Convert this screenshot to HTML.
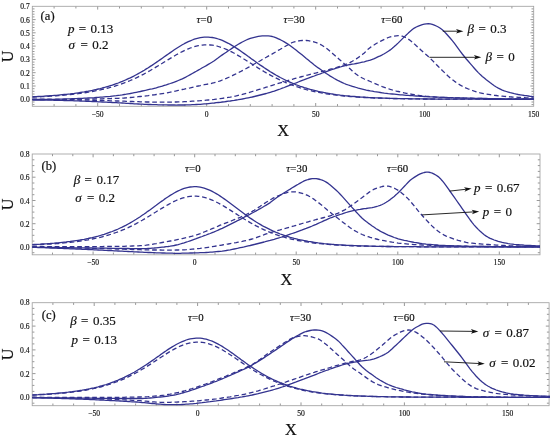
<!DOCTYPE html>
<html lang="en"><head><meta charset="utf-8"><title>Figure</title>
<style>html,body{margin:0;padding:0;background:#fff}body{width:550px;height:438px;overflow:hidden;font-family:"Liberation Serif",serif}svg{display:block}</style>
</head><body>
<svg width="550" height="438" viewBox="0 0 550 438">
<rect width="550" height="438" fill="#fff"/>
<g id="plot-a">
<clipPath id="clip-a"><rect x="32.3" y="5.3" width="502.4" height="102"/></clipPath>
<path d="M54.1,106.3v-2.2M54.1,6.3v2.2M75.9,106.3v-2.2M75.9,6.3v2.2M97.7,106.3v-3.3M97.7,6.3v3.3M119.5,106.3v-2.2M119.5,6.3v2.2M141.3,106.3v-2.2M141.3,6.3v2.2M163.1,106.3v-2.2M163.1,6.3v2.2M184.9,106.3v-2.2M184.9,6.3v2.2M206.7,106.3v-3.3M206.7,6.3v3.3M228.5,106.3v-2.2M228.5,6.3v2.2M250.3,106.3v-2.2M250.3,6.3v2.2M272.1,106.3v-2.2M272.1,6.3v2.2M293.9,106.3v-2.2M293.9,6.3v2.2M315.7,106.3v-3.3M315.7,6.3v3.3M337.5,106.3v-2.2M337.5,6.3v2.2M359.3,106.3v-2.2M359.3,6.3v2.2M381.1,106.3v-2.2M381.1,6.3v2.2M402.9,106.3v-2.2M402.9,6.3v2.2M424.7,106.3v-3.3M424.7,6.3v3.3M446.5,106.3v-2.2M446.5,6.3v2.2M468.3,106.3v-2.2M468.3,6.3v2.2M490.1,106.3v-2.2M490.1,6.3v2.2M511.9,106.3v-2.2M511.9,6.3v2.2M32.3,104.6h2.2M533.7,104.6h-2.2M32.3,102h2.2M533.7,102h-2.2M32.3,99.3h3.3M533.7,99.3h-3.3M32.3,96.6h2.2M533.7,96.6h-2.2M32.3,94h2.2M533.7,94h-2.2M32.3,91.3h2.2M533.7,91.3h-2.2M32.3,88.7h2.2M533.7,88.7h-2.2M32.3,86h3.3M533.7,86h-3.3M32.3,83.4h2.2M533.7,83.4h-2.2M32.3,80.7h2.2M533.7,80.7h-2.2M32.3,78h2.2M533.7,78h-2.2M32.3,75.4h2.2M533.7,75.4h-2.2M32.3,72.7h3.3M533.7,72.7h-3.3M32.3,70.1h2.2M533.7,70.1h-2.2M32.3,67.4h2.2M533.7,67.4h-2.2M32.3,64.7h2.2M533.7,64.7h-2.2M32.3,62.1h2.2M533.7,62.1h-2.2M32.3,59.4h3.3M533.7,59.4h-3.3M32.3,56.8h2.2M533.7,56.8h-2.2M32.3,54.1h2.2M533.7,54.1h-2.2M32.3,51.5h2.2M533.7,51.5h-2.2M32.3,48.8h2.2M533.7,48.8h-2.2M32.3,46.1h3.3M533.7,46.1h-3.3M32.3,43.5h2.2M533.7,43.5h-2.2M32.3,40.8h2.2M533.7,40.8h-2.2M32.3,38.2h2.2M533.7,38.2h-2.2M32.3,35.5h2.2M533.7,35.5h-2.2M32.3,32.8h3.3M533.7,32.8h-3.3M32.3,30.2h2.2M533.7,30.2h-2.2M32.3,27.5h2.2M533.7,27.5h-2.2M32.3,24.9h2.2M533.7,24.9h-2.2M32.3,22.2h2.2M533.7,22.2h-2.2M32.3,19.6h3.3M533.7,19.6h-3.3M32.3,16.9h2.2M533.7,16.9h-2.2M32.3,14.2h2.2M533.7,14.2h-2.2M32.3,11.6h2.2M533.7,11.6h-2.2M32.3,8.9h2.2M533.7,8.9h-2.2" stroke="#8c8c8c" stroke-width="0.9" fill="none"/>
<rect x="32.3" y="6.3" width="501.4" height="100" fill="none" stroke="#a2a2a2" stroke-width="0.85"/>
<g clip-path="url(#clip-a)" fill="none" stroke="#33338f" stroke-width="1.3" stroke-linejoin="round">
<path d="M32.3,96.8 34.3,96.7 36.3,96.6 38.3,96.5 40.3,96.4 42.3,96.3 44.3,96.2 46.3,96 48.3,95.9 50.3,95.7 52.3,95.6 54.3,95.4 56.3,95.3 58.3,95.1 60.3,94.9 62.3,94.7 64.3,94.5 66.3,94.3 68.3,94.1 70.3,93.9 72.3,93.6 74.3,93.4 76.3,93.1 78.3,92.8 80.3,92.5 82.3,92.2 84.3,91.9 86.3,91.5 88.3,91.2 90.3,90.8 92.3,90.4 94.3,89.9 96.3,89.5 98.3,89 100.3,88.6 102.3,88 104.3,87.5 106.3,86.9 108.3,86.3 110.3,85.7 112.3,85.1 114.3,84.4 116.3,83.7 118.3,83 120.3,82.2 122.3,81.4 124.3,80.5 126.3,79.7 128.3,78.7 130.3,77.8 132.3,76.8 134.3,75.8 136.3,74.7 138.3,73.6 140.3,72.5 142.3,71.4 144.3,70.2 146.3,68.9 148.3,67.7 150.3,66.4 152.3,65.1 154.3,63.7 156.3,62.4 158.3,61 160.3,59.6 162.3,58.2 164.3,56.8 166.3,55.4 168.3,54 170.3,52.6 172.3,51.2 174.3,49.8 176.3,48.5 178.3,47.2 180.3,46 182.3,44.8 184.3,43.7 186.3,42.7 188.3,41.7 190.3,40.8 192.3,40 194.3,39.2 196.3,38.6 198.3,38.1 200.3,37.7 202.3,37.4 204.3,37.2 206.3,37.1 208.3,37.1 210.3,37.3 212.3,37.5 214.3,37.9 216.3,38.4 218.3,39 220.3,39.7 222.3,40.4 224.3,41.3 226.3,42.3 228.3,43.3 230.3,44.4 232.3,45.6 234.3,46.8 236.3,48.1 238.3,49.4 240.3,50.8 242.3,52.2 244.3,53.6 246.3,55 248.3,56.5 250.3,57.9 252.3,59.4 254.3,60.8 256.3,62.2 258.3,63.7 260.3,65.1 262.3,66.4 264.3,67.8 266.3,69.1 268.3,70.4 270.3,71.7 272.3,72.9 274.3,74.1 276.3,75.3 278.3,76.4 280.3,77.5 282.3,78.5 284.3,79.5 286.3,80.5 288.3,81.4 290.3,82.3 292.3,83.2 294.3,84 296.3,84.8 298.3,85.5 300.3,86.3 302.3,86.9 304.3,87.6 306.3,88.2 308.3,88.8 310.3,89.4 312.3,89.9 314.3,90.4 316.3,90.9 318.3,91.4 320.3,91.8 322.3,92.2 324.3,92.6 326.3,93 328.3,93.3 330.3,93.7 332.3,94 334.3,94.3 336.3,94.6 338.3,94.8 340.3,95.1 342.3,95.3 344.3,95.6 346.3,95.8 348.3,96 350.3,96.2 352.3,96.3 354.3,96.5 356.3,96.7 358.3,96.8 360.3,97 362.3,97.1 364.3,97.2 366.3,97.3 368.3,97.5 370.3,97.6 372.3,97.7 374.3,97.8 376.3,97.9 378.3,97.9 380.3,98 382.3,98.1 384.3,98.2 386.3,98.2 388.3,98.3 390.3,98.3 392.3,98.4 394.3,98.5 396.3,98.5 398.3,98.6 400.3,98.6 402.3,98.6 404.3,98.7 406.3,98.7 408.3,98.7 410.3,98.8 412.3,98.8 414.3,98.8 416.3,98.9 418.3,98.9 420.3,98.9 422.3,98.9 424.3,99 426.3,99 428.3,99 430.3,99 432.3,99 434.3,99 436.3,99.1 438.3,99.1 440.3,99.1 442.3,99.1 444.3,99.1 446.3,99.1 448.3,99.1 450.3,99.1 452.3,99.2 454.3,99.2 456.3,99.2 458.3,99.2 460.3,99.2 462.3,99.2 464.3,99.2 466.3,99.2 468.3,99.2 470.3,99.2 472.3,99.2 474.3,99.2 476.3,99.2 478.3,99.2 480.3,99.2 482.3,99.2 484.3,99.2 486.3,99.2 488.3,99.3 490.3,99.3 492.3,99.3 494.3,99.3 496.3,99.3 498.3,99.3 500.3,99.3 502.3,99.3 504.3,99.3 506.3,99.3 508.3,99.3 510.3,99.3 512.3,99.3 514.3,99.3 516.3,99.3 518.3,99.3 520.3,99.3 522.3,99.3 524.3,99.3 526.3,99.3 528.3,99.3 530.3,99.3 532.3,99.3 533.7,99.3"/>
<path d="M32.3,97.1 34.3,97 36.3,96.9 38.3,96.9 40.3,96.8 42.3,96.7 44.3,96.5 46.3,96.4 48.3,96.3 50.3,96.2 52.3,96.1 54.3,95.9 56.3,95.8 58.3,95.6 60.3,95.5 62.3,95.3 64.3,95.1 66.3,94.9 68.3,94.7 70.3,94.5 72.3,94.3 74.3,94.1 76.3,93.9 78.3,93.6 80.3,93.4 82.3,93.1 84.3,92.8 86.3,92.5 88.3,92.2 90.3,91.8 92.3,91.5 94.3,91.1 96.3,90.7 98.3,90.3 100.3,89.9 102.3,89.4 104.3,89 106.3,88.5 108.3,88 110.3,87.4 112.3,86.8 114.3,86.3 116.3,85.6 118.3,85 120.3,84.3 122.3,83.6 124.3,82.9 126.3,82.1 128.3,81.3 130.3,80.5 132.3,79.6 134.3,78.7 136.3,77.8 138.3,76.8 140.3,75.8 142.3,74.8 144.3,73.8 146.3,72.7 148.3,71.6 150.3,70.5 152.3,69.3 154.3,68.1 156.3,66.9 158.3,65.7 160.3,64.5 162.3,63.3 164.3,62 166.3,60.8 168.3,59.6 170.3,58.4 172.3,57.2 174.3,56 176.3,54.8 178.3,53.7 180.3,52.6 182.3,51.6 184.3,50.6 186.3,49.7 188.3,48.8 190.3,48 192.3,47.3 194.3,46.7 196.3,46.1 198.3,45.7 200.3,45.3 202.3,45.1 204.3,44.9 206.3,44.8 208.3,44.8 210.3,45 212.3,45.2 214.3,45.5 216.3,45.9 218.3,46.5 220.3,47.1 222.3,47.7 224.3,48.5 226.3,49.3 228.3,50.2 230.3,51.2 232.3,52.2 234.3,53.3 236.3,54.4 238.3,55.6 240.3,56.8 242.3,58 244.3,59.3 246.3,60.5 248.3,61.8 250.3,63 252.3,64.3 254.3,65.6 256.3,66.8 258.3,68.1 260.3,69.3 262.3,70.5 264.3,71.7 266.3,72.9 268.3,74 270.3,75.1 272.3,76.2 274.3,77.2 276.3,78.2 278.3,79.2 280.3,80.2 282.3,81.1 284.3,82 286.3,82.8 288.3,83.6 290.3,84.4 292.3,85.2 294.3,85.9 296.3,86.6 298.3,87.2 300.3,87.9 302.3,88.5 304.3,89 306.3,89.6 308.3,90.1 310.3,90.6 312.3,91.1 314.3,91.5 316.3,92 318.3,92.4 320.3,92.7 322.3,93.1 324.3,93.4 326.3,93.8 328.3,94.1 330.3,94.4 332.3,94.6 334.3,94.9 336.3,95.2 338.3,95.4 340.3,95.6 342.3,95.8 344.3,96 346.3,96.2 348.3,96.4 350.3,96.6 352.3,96.7 354.3,96.9 356.3,97 358.3,97.1 360.3,97.3 362.3,97.4 364.3,97.5 366.3,97.6 368.3,97.7 370.3,97.8 372.3,97.9 374.3,98 376.3,98 378.3,98.1 380.3,98.2 382.3,98.2 384.3,98.3 386.3,98.4 388.3,98.4 390.3,98.5 392.3,98.5 394.3,98.6 396.3,98.6 398.3,98.6 400.3,98.7 402.3,98.7 404.3,98.8 406.3,98.8 408.3,98.8 410.3,98.8 412.3,98.9 414.3,98.9 416.3,98.9 418.3,98.9 420.3,99 422.3,99 424.3,99 426.3,99 428.3,99 430.3,99.1 432.3,99.1 434.3,99.1 436.3,99.1 438.3,99.1 440.3,99.1 442.3,99.1 444.3,99.1 446.3,99.1 448.3,99.2 450.3,99.2 452.3,99.2 454.3,99.2 456.3,99.2 458.3,99.2 460.3,99.2 462.3,99.2 464.3,99.2 466.3,99.2 468.3,99.2 470.3,99.2 472.3,99.2 474.3,99.2 476.3,99.2 478.3,99.2 480.3,99.2 482.3,99.2 484.3,99.3 486.3,99.3 488.3,99.3 490.3,99.3 492.3,99.3 494.3,99.3 496.3,99.3 498.3,99.3 500.3,99.3 502.3,99.3 504.3,99.3 506.3,99.3 508.3,99.3 510.3,99.3 512.3,99.3 514.3,99.3 516.3,99.3 518.3,99.3 520.3,99.3 522.3,99.3 524.3,99.3 526.3,99.3 528.3,99.3 530.3,99.3 532.3,99.3 533.7,99.3" stroke-dasharray="4.7 2.8"/>
<path d="M32.3,99.5 34.3,99.5 36.3,99.5 38.3,99.5 40.3,99.5 42.3,99.5 44.3,99.5 46.3,99.4 48.3,99.4 50.3,99.4 52.3,99.3 54.3,99.3 56.3,99.2 58.3,99.2 60.3,99.1 62.3,99.1 64.3,99 66.3,98.9 68.3,98.9 70.3,98.8 72.3,98.7 74.3,98.6 76.3,98.6 78.3,98.5 80.3,98.4 82.3,98.3 84.3,98.2 86.3,98.1 88.3,98 90.3,97.9 92.3,97.8 94.3,97.7 96.3,97.5 98.3,97.4 100.3,97.2 102.3,97.1 104.3,96.9 106.3,96.7 108.3,96.6 110.3,96.4 112.3,96.1 114.3,95.9 116.3,95.7 118.3,95.4 120.3,95.2 122.3,94.9 124.3,94.5 126.3,94.2 128.3,93.8 130.3,93.5 132.3,93.1 134.3,92.7 136.3,92.3 138.3,91.9 140.3,91.5 142.3,91 144.3,90.6 146.3,90.2 148.3,89.7 150.3,89.2 152.3,88.8 154.3,88.3 156.3,87.8 158.3,87.2 160.3,86.7 162.3,86.1 164.3,85.4 166.3,84.8 168.3,84.1 170.3,83.5 172.3,82.8 174.3,82.1 176.3,81.3 178.3,80.5 180.3,79.7 182.3,78.8 184.3,77.8 186.3,76.8 188.3,75.7 190.3,74.6 192.3,73.5 194.3,72.4 196.3,71.3 198.3,70.1 200.3,69 202.3,67.8 204.3,66.7 206.3,65.6 208.3,64.4 210.3,63.2 212.3,62 214.3,60.7 216.3,59.2 218.3,57.8 220.3,56.3 222.3,54.9 224.3,53.5 226.3,52.2 228.3,50.8 230.3,49.5 232.3,48.1 234.3,46.8 236.3,45.5 238.3,44.3 240.3,43.1 242.3,42 244.3,41 246.3,40 248.3,39.1 250.3,38.4 252.3,37.8 254.3,37.3 256.3,36.8 258.3,36.4 260.3,36.1 262.3,35.9 264.3,35.8 266.3,35.8 268.3,35.9 270.3,36.1 272.3,36.5 274.3,37.1 276.3,37.9 278.3,38.8 280.3,39.7 282.3,40.8 284.3,41.9 286.3,43.1 288.3,44.3 290.3,45.7 292.3,47.2 294.3,48.8 296.3,50.3 298.3,51.9 300.3,53.5 302.3,55.1 304.3,56.7 306.3,58.4 308.3,60 310.3,61.7 312.3,63.3 314.3,64.9 316.3,66.4 318.3,67.9 320.3,69.3 322.3,70.7 324.3,72.1 326.3,73.5 328.3,74.8 330.3,76.1 332.3,77.3 334.3,78.5 336.3,79.6 338.3,80.7 340.3,81.7 342.3,82.6 344.3,83.5 346.3,84.3 348.3,85 350.3,85.7 352.3,86.3 354.3,86.9 356.3,87.5 358.3,88.1 360.3,88.6 362.3,89.1 364.3,89.6 366.3,90.1 368.3,90.5 370.3,90.9 372.3,91.2 374.3,91.6 376.3,91.9 378.3,92.2 380.3,92.5 382.3,92.8 384.3,93.1 386.3,93.3 388.3,93.6 390.3,93.8 392.3,94 394.3,94.2 396.3,94.4 398.3,94.6 400.3,94.8 402.3,94.9 404.3,95.1 406.3,95.3 408.3,95.4 410.3,95.6 412.3,95.7 414.3,95.9 416.3,96 418.3,96.1 420.3,96.3 422.3,96.4 424.3,96.5 426.3,96.6 428.3,96.7 430.3,96.8 432.3,96.9 434.3,97 436.3,97.1 438.3,97.2 440.3,97.3 442.3,97.3 444.3,97.4 446.3,97.5 448.3,97.6 450.3,97.6 452.3,97.7 454.3,97.8 456.3,97.8 458.3,97.9 460.3,98 462.3,98 464.3,98.1 466.3,98.1 468.3,98.2 470.3,98.2 472.3,98.2 474.3,98.3 476.3,98.3 478.3,98.4 480.3,98.4 482.3,98.4 484.3,98.5 486.3,98.5 488.3,98.6 490.3,98.6 492.3,98.6 494.3,98.7 496.3,98.7 498.3,98.7 500.3,98.7 502.3,98.8 504.3,98.8 506.3,98.8 508.3,98.8 510.3,98.9 512.3,98.9 514.3,98.9 516.3,98.9 518.3,98.9 520.3,98.9 522.3,99 524.3,99 526.3,99 528.3,99 530.3,99 532.3,99 533.7,99"/>
<path d="M32.3,99.4 34.3,99.4 36.3,99.4 38.3,99.4 40.3,99.4 42.3,99.4 44.3,99.4 46.3,99.4 48.3,99.4 50.3,99.4 52.3,99.4 54.3,99.4 56.3,99.4 58.3,99.4 60.3,99.4 62.3,99.4 64.3,99.3 66.3,99.3 68.3,99.3 70.3,99.3 72.3,99.3 74.3,99.3 76.3,99.2 78.3,99.2 80.3,99.2 82.3,99.2 84.3,99.2 86.3,99.1 88.3,99.1 90.3,99.1 92.3,99 94.3,99 96.3,98.9 98.3,98.9 100.3,98.9 102.3,98.8 104.3,98.7 106.3,98.7 108.3,98.6 110.3,98.6 112.3,98.5 114.3,98.4 116.3,98.4 118.3,98.3 120.3,98.2 122.3,98.1 124.3,98 126.3,97.8 128.3,97.7 130.3,97.5 132.3,97.3 134.3,97.1 136.3,96.9 138.3,96.7 140.3,96.5 142.3,96.3 144.3,96.1 146.3,95.8 148.3,95.6 150.3,95.3 152.3,95 154.3,94.8 156.3,94.5 158.3,94.2 160.3,93.9 162.3,93.6 164.3,93.3 166.3,93 168.3,92.6 170.3,92.2 172.3,91.7 174.3,91.3 176.3,90.9 178.3,90.4 180.3,90 182.3,89.5 184.3,89.1 186.3,88.6 188.3,88.2 190.3,87.8 192.3,87.3 194.3,86.9 196.3,86.4 198.3,86 200.3,85.6 202.3,85.1 204.3,84.7 206.3,84.3 208.3,84 210.3,83.7 212.3,83.2 214.3,82.7 216.3,82.1 218.3,81.5 220.3,80.8 222.3,80 224.3,79.2 226.3,78.4 228.3,77.5 230.3,76.6 232.3,75.7 234.3,74.7 236.3,73.7 238.3,72.7 240.3,71.7 242.3,70.6 244.3,69.6 246.3,68.5 248.3,67.4 250.3,66.3 252.3,65.1 254.3,64 256.3,62.9 258.3,61.8 260.3,60.7 262.3,59.5 264.3,58.4 266.3,57.3 268.3,56.1 270.3,55 272.3,53.9 274.3,52.7 276.3,51.6 278.3,50.4 280.3,49.3 282.3,48.1 284.3,46.9 286.3,45.7 288.3,44.6 290.3,43.4 292.3,42.5 294.3,41.9 296.3,41.5 298.3,41 300.3,40.7 302.3,40.5 304.3,40.4 306.3,40.5 308.3,40.7 310.3,41.1 312.3,41.5 314.3,42 316.3,42.7 318.3,43.4 320.3,44.4 322.3,45.5 324.3,46.8 326.3,48.2 328.3,49.8 330.3,51.5 332.3,53.2 334.3,54.9 336.3,56.6 338.3,58.4 340.3,60.2 342.3,62 344.3,63.8 346.3,65.5 348.3,67.3 350.3,69.1 352.3,70.9 354.3,72.7 356.3,74.3 358.3,75.7 360.3,77 362.3,78 364.3,79 366.3,79.9 368.3,80.7 370.3,81.5 372.3,82.4 374.3,83.3 376.3,84.1 378.3,85 380.3,85.8 382.3,86.6 384.3,87.3 386.3,88.1 388.3,88.7 390.3,89.4 392.3,90 394.3,90.6 396.3,91.1 398.3,91.5 400.3,92 402.3,92.4 404.3,92.9 406.3,93.3 408.3,93.6 410.3,94 412.3,94.3 414.3,94.7 416.3,95 418.3,95.3 420.3,95.6 422.3,95.9 424.3,96.1 426.3,96.3 428.3,96.5 430.3,96.7 432.3,96.8 434.3,96.9 436.3,97.1 438.3,97.2 440.3,97.3 442.3,97.4 444.3,97.5 446.3,97.6 448.3,97.6 450.3,97.7 452.3,97.8 454.3,97.8 456.3,97.9 458.3,97.9 460.3,98 462.3,98 464.3,98.1 466.3,98.1 468.3,98.2 470.3,98.2 472.3,98.3 474.3,98.3 476.3,98.4 478.3,98.4 480.3,98.5 482.3,98.5 484.3,98.5 486.3,98.6 488.3,98.6 490.3,98.6 492.3,98.7 494.3,98.7 496.3,98.7 498.3,98.7 500.3,98.8 502.3,98.8 504.3,98.8 506.3,98.9 508.3,98.9 510.3,98.9 512.3,98.9 514.3,98.9 516.3,99 518.3,99 520.3,99 522.3,99 524.3,99 526.3,99.1 528.3,99.1 530.3,99.1 532.3,99.1 533.7,99.1" stroke-dasharray="4.7 2.8"/>
<path d="M32.3,100 34.3,100 36.3,100 38.3,100.1 40.3,100.1 42.3,100.1 44.3,100.1 46.3,100.1 48.3,100.2 50.3,100.2 52.3,100.2 54.3,100.3 56.3,100.3 58.3,100.4 60.3,100.4 62.3,100.4 64.3,100.5 66.3,100.6 68.3,100.6 70.3,100.7 72.3,100.7 74.3,100.8 76.3,100.9 78.3,100.9 80.3,101 82.3,101.1 84.3,101.2 86.3,101.3 88.3,101.3 90.3,101.4 92.3,101.5 94.3,101.6 96.3,101.7 98.3,101.8 100.3,101.9 102.3,102 104.3,102.1 106.3,102.2 108.3,102.3 110.3,102.4 112.3,102.5 114.3,102.6 116.3,102.7 118.3,102.8 120.3,102.9 122.3,103 124.3,103.1 126.3,103.3 128.3,103.4 130.3,103.5 132.3,103.6 134.3,103.8 136.3,103.9 138.3,104 140.3,104.1 142.3,104.2 144.3,104.3 146.3,104.4 148.3,104.5 150.3,104.5 152.3,104.6 154.3,104.7 156.3,104.7 158.3,104.8 160.3,104.8 162.3,104.9 164.3,104.9 166.3,104.9 168.3,105 170.3,105 172.3,105 174.3,105 176.3,105.1 178.3,105 180.3,105 182.3,105 184.3,105 186.3,104.9 188.3,104.9 190.3,104.8 192.3,104.7 194.3,104.6 196.3,104.5 198.3,104.4 200.3,104.3 202.3,104.1 204.3,103.9 206.3,103.8 208.3,103.6 210.3,103.4 212.3,103.2 214.3,103 216.3,102.7 218.3,102.5 220.3,102.3 222.3,102 224.3,101.8 226.3,101.5 228.3,101.2 230.3,101 232.3,100.7 234.3,100.4 236.3,100 238.3,99.7 240.3,99.3 242.3,99 244.3,98.6 246.3,98.2 248.3,97.8 250.3,97.4 252.3,97 254.3,96.5 256.3,96 258.3,95.5 260.3,95 262.3,94.5 264.3,94 266.3,93.5 268.3,92.9 270.3,92.3 272.3,91.7 274.3,91.1 276.3,90.4 278.3,89.7 280.3,89 282.3,88.2 284.3,87.5 286.3,86.7 288.3,85.9 290.3,85.1 292.3,84.3 294.3,83.5 296.3,82.8 298.3,82 300.3,81.2 302.3,80.4 304.3,79.7 306.3,78.9 308.3,78.2 310.3,77.4 312.3,76.7 314.3,76 316.3,75.2 318.3,74.5 320.3,73.8 322.3,73 324.3,72.3 326.3,71.6 328.3,70.9 330.3,70.2 332.3,69.5 334.3,68.8 336.3,68.2 338.3,67.6 340.3,67 342.3,66.4 344.3,65.9 346.3,65.4 348.3,64.9 350.3,64.5 352.3,64.2 354.3,63.9 356.3,63.5 358.3,63.1 360.3,62.7 362.3,62.2 364.3,61.8 366.3,61.2 368.3,60.7 370.3,60.1 372.3,59.4 374.3,58.6 376.3,57.7 378.3,56.7 380.3,55.8 382.3,54.8 384.3,53.7 386.3,52.5 388.3,51.2 390.3,49.9 392.3,48.3 394.3,46.6 396.3,44.8 398.3,42.9 400.3,40.9 402.3,38.9 404.3,36.9 406.3,35 408.3,33.1 410.3,31.3 412.3,29.6 414.3,28.1 416.3,27 418.3,26.1 420.3,25.4 422.3,24.7 424.3,24.2 426.3,23.8 428.3,23.7 430.3,23.9 432.3,24.4 434.3,25.1 436.3,26 438.3,27 440.3,28.3 442.3,29.7 444.3,31.6 446.3,33.7 448.3,36 450.3,38.3 452.3,40.7 454.3,43.2 456.3,45.9 458.3,48.6 460.3,51.3 462.3,54 464.3,56.5 466.3,59 468.3,61.3 470.3,63.6 472.3,65.9 474.3,68.2 476.3,70.5 478.3,72.6 480.3,74.6 482.3,76.4 484.3,78 486.3,79.7 488.3,81.2 490.3,82.8 492.3,84.3 494.3,85.7 496.3,87 498.3,88.1 500.3,89.1 502.3,90.1 504.3,90.9 506.3,91.5 508.3,92.1 510.3,92.7 512.3,93.2 514.3,93.7 516.3,94.1 518.3,94.5 520.3,94.8 522.3,95.1 524.3,95.5 526.3,95.7 528.3,96 530.3,96.3 532.3,96.5 533.7,96.6"/>
<path d="M32.3,99.4 34.3,99.4 36.3,99.4 38.3,99.4 40.3,99.5 42.3,99.5 44.3,99.5 46.3,99.5 48.3,99.5 50.3,99.5 52.3,99.6 54.3,99.6 56.3,99.6 58.3,99.6 60.3,99.6 62.3,99.7 64.3,99.7 66.3,99.7 68.3,99.8 70.3,99.8 72.3,99.8 74.3,99.9 76.3,99.9 78.3,99.9 80.3,100 82.3,100 84.3,100.1 86.3,100.1 88.3,100.2 90.3,100.2 92.3,100.3 94.3,100.3 96.3,100.4 98.3,100.4 100.3,100.5 102.3,100.5 104.3,100.6 106.3,100.7 108.3,100.7 110.3,100.8 112.3,100.9 114.3,100.9 116.3,101 118.3,101 120.3,101.1 122.3,101.2 124.3,101.2 126.3,101.3 128.3,101.4 130.3,101.5 132.3,101.5 134.3,101.6 136.3,101.7 138.3,101.7 140.3,101.8 142.3,101.9 144.3,101.9 146.3,102 148.3,102 150.3,102 152.3,102.1 154.3,102.1 156.3,102.1 158.3,102.1 160.3,102.1 162.3,102.1 164.3,102.1 166.3,102.1 168.3,102.1 170.3,102.1 172.3,102.1 174.3,102 176.3,102 178.3,101.9 180.3,101.8 182.3,101.8 184.3,101.7 186.3,101.6 188.3,101.4 190.3,101.3 192.3,101.2 194.3,101.1 196.3,100.9 198.3,100.8 200.3,100.7 202.3,100.5 204.3,100.4 206.3,100.2 208.3,100 210.3,99.8 212.3,99.6 214.3,99.4 216.3,99.1 218.3,98.9 220.3,98.6 222.3,98.3 224.3,98 226.3,97.7 228.3,97.4 230.3,97.1 232.3,96.7 234.3,96.3 236.3,95.9 238.3,95.4 240.3,94.9 242.3,94.4 244.3,93.8 246.3,93.3 248.3,92.7 250.3,92.1 252.3,91.5 254.3,90.9 256.3,90.3 258.3,89.7 260.3,89.1 262.3,88.5 264.3,87.9 266.3,87.2 268.3,86.6 270.3,86 272.3,85.3 274.3,84.7 276.3,84 278.3,83.4 280.3,82.8 282.3,82.2 284.3,81.6 286.3,81 288.3,80.4 290.3,79.8 292.3,79.3 294.3,78.7 296.3,78.1 298.3,77.6 300.3,77 302.3,76.5 304.3,75.9 306.3,75.4 308.3,74.9 310.3,74.3 312.3,73.8 314.3,73.3 316.3,72.9 318.3,72.4 320.3,71.9 322.3,71.4 324.3,70.9 326.3,70.3 328.3,69.8 330.3,69.2 332.3,68.7 334.3,68.1 336.3,67.5 338.3,66.8 340.3,66.2 342.3,65.5 344.3,64.8 346.3,64.1 348.3,63.3 350.3,62.4 352.3,61.3 354.3,60.1 356.3,58.9 358.3,57.5 360.3,56.1 362.3,54.6 364.3,53 366.3,51 368.3,49 370.3,47.4 372.3,46 374.3,44.8 376.3,43.5 378.3,42.4 380.3,41.3 382.3,40.3 384.3,39.3 386.3,38.4 388.3,37.5 390.3,36.9 392.3,36.4 394.3,36.1 396.3,35.8 398.3,35.7 400.3,35.8 402.3,36.2 404.3,37 406.3,37.9 408.3,39.1 410.3,40.5 412.3,42.1 414.3,43.9 416.3,45.8 418.3,47.6 420.3,49.4 422.3,51.2 424.3,53 426.3,54.8 428.3,56.6 430.3,58.4 432.3,60.4 434.3,62.4 436.3,64.5 438.3,66.5 440.3,68.5 442.3,70.5 444.3,72.4 446.3,74.4 448.3,76.3 450.3,78 452.3,79.5 454.3,81.1 456.3,82.5 458.3,83.8 460.3,85.1 462.3,86.2 464.3,87.2 466.3,88.2 468.3,89 470.3,89.8 472.3,90.5 474.3,91.2 476.3,91.8 478.3,92.4 480.3,92.9 482.3,93.3 484.3,93.7 486.3,94.1 488.3,94.4 490.3,94.7 492.3,95 494.3,95.3 496.3,95.5 498.3,95.8 500.3,96 502.3,96.2 504.3,96.4 506.3,96.5 508.3,96.7 510.3,96.8 512.3,97 514.3,97.1 516.3,97.2 518.3,97.4 520.3,97.5 522.3,97.6 524.3,97.7 526.3,97.8 528.3,97.8 530.3,97.9 532.3,98 533.7,98" stroke-dasharray="4.7 2.8"/>
</g>
<g font-family="'Liberation Serif', serif" font-size="7.6" fill="#111" stroke="#111" stroke-width="0.15">
<text x="29.7" y="102.3" text-anchor="end">0.0</text>
<text x="29.7" y="89" text-anchor="end">0.1</text>
<text x="29.7" y="75.7" text-anchor="end">0.2</text>
<text x="29.7" y="62.4" text-anchor="end">0.3</text>
<text x="29.7" y="49.1" text-anchor="end">0.4</text>
<text x="29.7" y="35.8" text-anchor="end">0.5</text>
<text x="29.7" y="22.6" text-anchor="end">0.6</text>
<text x="29.7" y="9.3" text-anchor="end">0.7</text>
<text x="97.7" y="116.5" text-anchor="middle">−50</text>
<text x="206.7" y="116.5" text-anchor="middle">0</text>
<text x="315.7" y="116.5" text-anchor="middle">50</text>
<text x="424.7" y="116.5" text-anchor="middle">100</text>
<text x="533.7" y="116.5" text-anchor="middle">150</text>
</g>
</g>
<g id="plot-b">
<clipPath id="clip-b"><rect x="32.2" y="153" width="508.8" height="102.8"/></clipPath>
<path d="M52.5,254.8v-2.2M52.5,154v2.2M72.8,254.8v-2.2M72.8,154v2.2M93.1,254.8v-3.3M93.1,154v3.3M113.4,254.8v-2.2M113.4,154v2.2M133.8,254.8v-2.2M133.8,154v2.2M154.1,254.8v-2.2M154.1,154v2.2M174.4,254.8v-2.2M174.4,154v2.2M194.7,254.8v-3.3M194.7,154v3.3M215,254.8v-2.2M215,154v2.2M235.3,254.8v-2.2M235.3,154v2.2M255.6,254.8v-2.2M255.6,154v2.2M275.9,254.8v-2.2M275.9,154v2.2M296.2,254.8v-3.3M296.2,154v3.3M316.5,254.8v-2.2M316.5,154v2.2M336.9,254.8v-2.2M336.9,154v2.2M357.2,254.8v-2.2M357.2,154v2.2M377.5,254.8v-2.2M377.5,154v2.2M397.8,254.8v-3.3M397.8,154v3.3M418.1,254.8v-2.2M418.1,154v2.2M438.4,254.8v-2.2M438.4,154v2.2M458.7,254.8v-2.2M458.7,154v2.2M479,254.8v-2.2M479,154v2.2M499.3,254.8v-3.3M499.3,154v3.3M519.6,254.8v-2.2M519.6,154v2.2M32.2,252.7h2.2M540,252.7h-2.2M32.2,246.9h3.3M540,246.9h-3.3M32.2,241.1h2.2M540,241.1h-2.2M32.2,235.3h2.2M540,235.3h-2.2M32.2,229.5h2.2M540,229.5h-2.2M32.2,223.7h3.3M540,223.7h-3.3M32.2,217.9h2.2M540,217.9h-2.2M32.2,212.1h2.2M540,212.1h-2.2M32.2,206.3h2.2M540,206.3h-2.2M32.2,200.5h3.3M540,200.5h-3.3M32.2,194.7h2.2M540,194.7h-2.2M32.2,188.9h2.2M540,188.9h-2.2M32.2,183h2.2M540,183h-2.2M32.2,177.2h3.3M540,177.2h-3.3M32.2,171.4h2.2M540,171.4h-2.2M32.2,165.6h2.2M540,165.6h-2.2M32.2,159.8h2.2M540,159.8h-2.2" stroke="#8c8c8c" stroke-width="0.9" fill="none"/>
<rect x="32.2" y="154" width="507.8" height="100.8" fill="none" stroke="#a2a2a2" stroke-width="0.85"/>
<g clip-path="url(#clip-b)" fill="none" stroke="#33338f" stroke-width="1.3" stroke-linejoin="round">
<path d="M32.2,244.6 34.2,244.5 36.2,244.4 38.2,244.3 40.2,244.2 42.2,244 44.2,243.9 46.2,243.8 48.2,243.6 50.2,243.5 52.2,243.3 54.2,243.2 56.2,243 58.2,242.8 60.2,242.6 62.2,242.4 64.2,242.2 66.2,242 68.2,241.7 70.2,241.5 72.2,241.2 74.2,240.9 76.2,240.6 78.2,240.3 80.2,240 82.2,239.6 84.2,239.3 86.2,238.9 88.2,238.5 90.2,238 92.2,237.6 94.2,237.1 96.2,236.6 98.2,236.1 100.2,235.5 102.2,234.9 104.2,234.3 106.2,233.6 108.2,232.9 110.2,232.2 112.2,231.5 114.2,230.7 116.2,229.8 118.2,229 120.2,228 122.2,227.1 124.2,226.1 126.2,225.1 128.2,224 130.2,222.9 132.2,221.7 134.2,220.5 136.2,219.3 138.2,218 140.2,216.7 142.2,215.3 144.2,214 146.2,212.6 148.2,211.1 150.2,209.7 152.2,208.2 154.2,206.7 156.2,205.3 158.2,203.8 160.2,202.3 162.2,200.9 164.2,199.4 166.2,198 168.2,196.7 170.2,195.4 172.2,194.2 174.2,193 176.2,191.9 178.2,190.9 180.2,190 182.2,189.1 184.2,188.4 186.2,187.8 188.2,187.4 190.2,187 192.2,186.8 194.2,186.7 196.2,186.7 198.2,186.9 200.2,187.2 202.2,187.6 204.2,188.1 206.2,188.8 208.2,189.6 210.2,190.4 212.2,191.4 214.2,192.5 216.2,193.6 218.2,194.8 220.2,196.1 222.2,197.5 224.2,198.9 226.2,200.3 228.2,201.8 230.2,203.3 232.2,204.8 234.2,206.3 236.2,207.8 238.2,209.3 240.2,210.8 242.2,212.3 244.2,213.8 246.2,215.3 248.2,216.7 250.2,218.1 252.2,219.4 254.2,220.7 256.2,222 258.2,223.2 260.2,224.4 262.2,225.6 264.2,226.7 266.2,227.7 268.2,228.7 270.2,229.7 272.2,230.6 274.2,231.5 276.2,232.4 278.2,233.2 280.2,234 282.2,234.7 284.2,235.4 286.2,236.1 288.2,236.7 290.2,237.3 292.2,237.8 294.2,238.4 296.2,238.9 298.2,239.4 300.2,239.8 302.2,240.2 304.2,240.6 306.2,241 308.2,241.4 310.2,241.7 312.2,242 314.2,242.3 316.2,242.6 318.2,242.9 320.2,243.1 322.2,243.3 324.2,243.6 326.2,243.8 328.2,244 330.2,244.1 332.2,244.3 334.2,244.5 336.2,244.6 338.2,244.8 340.2,244.9 342.2,245 344.2,245.1 346.2,245.3 348.2,245.4 350.2,245.5 352.2,245.5 354.2,245.6 356.2,245.7 358.2,245.8 360.2,245.9 362.2,245.9 364.2,246 366.2,246 368.2,246.1 370.2,246.1 372.2,246.2 374.2,246.2 376.2,246.3 378.2,246.3 380.2,246.4 382.2,246.4 384.2,246.4 386.2,246.5 388.2,246.5 390.2,246.5 392.2,246.5 394.2,246.6 396.2,246.6 398.2,246.6 400.2,246.6 402.2,246.6 404.2,246.7 406.2,246.7 408.2,246.7 410.2,246.7 412.2,246.7 414.2,246.7 416.2,246.7 418.2,246.7 420.2,246.8 422.2,246.8 424.2,246.8 426.2,246.8 428.2,246.8 430.2,246.8 432.2,246.8 434.2,246.8 436.2,246.8 438.2,246.8 440.2,246.8 442.2,246.8 444.2,246.8 446.2,246.8 448.2,246.8 450.2,246.8 452.2,246.8 454.2,246.9 456.2,246.9 458.2,246.9 460.2,246.9 462.2,246.9 464.2,246.9 466.2,246.9 468.2,246.9 470.2,246.9 472.2,246.9 474.2,246.9 476.2,246.9 478.2,246.9 480.2,246.9 482.2,246.9 484.2,246.9 486.2,246.9 488.2,246.9 490.2,246.9 492.2,246.9 494.2,246.9 496.2,246.9 498.2,246.9 500.2,246.9 502.2,246.9 504.2,246.9 506.2,246.9 508.2,246.9 510.2,246.9 512.2,246.9 514.2,246.9 516.2,246.9 518.2,246.9 520.2,246.9 522.2,246.9 524.2,246.9 526.2,246.9 528.2,246.9 530.2,246.9 532.2,246.9 534.2,246.9 536.2,246.9 538.2,246.9 540,246.9"/>
<path d="M32.2,244.9 34.2,244.9 36.2,244.8 38.2,244.7 40.2,244.6 42.2,244.5 44.2,244.4 46.2,244.3 48.2,244.2 50.2,244 52.2,243.9 54.2,243.8 56.2,243.6 58.2,243.5 60.2,243.3 62.2,243.1 64.2,242.9 66.2,242.7 68.2,242.5 70.2,242.3 72.2,242.1 74.2,241.9 76.2,241.6 78.2,241.4 80.2,241.1 82.2,240.8 84.2,240.5 86.2,240.1 88.2,239.8 90.2,239.4 92.2,239 94.2,238.6 96.2,238.2 98.2,237.8 100.2,237.3 102.2,236.8 104.2,236.3 106.2,235.7 108.2,235.1 110.2,234.5 112.2,233.9 114.2,233.2 116.2,232.5 118.2,231.8 120.2,231 122.2,230.2 124.2,229.4 126.2,228.5 128.2,227.6 130.2,226.6 132.2,225.7 134.2,224.6 136.2,223.6 138.2,222.5 140.2,221.4 142.2,220.3 144.2,219.1 146.2,217.9 148.2,216.7 150.2,215.5 152.2,214.3 154.2,213 156.2,211.8 158.2,210.5 160.2,209.3 162.2,208.1 164.2,206.9 166.2,205.7 168.2,204.6 170.2,203.5 172.2,202.4 174.2,201.4 176.2,200.5 178.2,199.6 180.2,198.9 182.2,198.2 184.2,197.6 186.2,197.1 188.2,196.7 190.2,196.4 192.2,196.2 194.2,196.1 196.2,196.1 198.2,196.3 200.2,196.5 202.2,196.9 204.2,197.3 206.2,197.9 208.2,198.5 210.2,199.3 212.2,200.1 214.2,201 216.2,202 218.2,203 220.2,204.1 222.2,205.2 224.2,206.4 226.2,207.6 228.2,208.8 230.2,210.1 232.2,211.4 234.2,212.7 236.2,213.9 238.2,215.2 240.2,216.5 242.2,217.7 244.2,219 246.2,220.2 248.2,221.4 250.2,222.6 252.2,223.7 254.2,224.8 256.2,225.9 258.2,226.9 260.2,227.9 262.2,228.9 264.2,229.8 266.2,230.7 268.2,231.6 270.2,232.4 272.2,233.2 274.2,233.9 276.2,234.7 278.2,235.3 280.2,236 282.2,236.6 284.2,237.2 286.2,237.8 288.2,238.3 290.2,238.8 292.2,239.3 294.2,239.7 296.2,240.1 298.2,240.5 300.2,240.9 302.2,241.3 304.2,241.6 306.2,241.9 308.2,242.2 310.2,242.5 312.2,242.8 314.2,243 316.2,243.3 318.2,243.5 320.2,243.7 322.2,243.9 324.2,244.1 326.2,244.3 328.2,244.4 330.2,244.6 332.2,244.7 334.2,244.9 336.2,245 338.2,245.1 340.2,245.2 342.2,245.3 344.2,245.4 346.2,245.5 348.2,245.6 350.2,245.7 352.2,245.8 354.2,245.8 356.2,245.9 358.2,246 360.2,246 362.2,246.1 364.2,246.1 366.2,246.2 368.2,246.2 370.2,246.3 372.2,246.3 374.2,246.3 376.2,246.4 378.2,246.4 380.2,246.4 382.2,246.5 384.2,246.5 386.2,246.5 388.2,246.5 390.2,246.6 392.2,246.6 394.2,246.6 396.2,246.6 398.2,246.6 400.2,246.7 402.2,246.7 404.2,246.7 406.2,246.7 408.2,246.7 410.2,246.7 412.2,246.7 414.2,246.7 416.2,246.8 418.2,246.8 420.2,246.8 422.2,246.8 424.2,246.8 426.2,246.8 428.2,246.8 430.2,246.8 432.2,246.8 434.2,246.8 436.2,246.8 438.2,246.8 440.2,246.8 442.2,246.8 444.2,246.8 446.2,246.8 448.2,246.9 450.2,246.9 452.2,246.9 454.2,246.9 456.2,246.9 458.2,246.9 460.2,246.9 462.2,246.9 464.2,246.9 466.2,246.9 468.2,246.9 470.2,246.9 472.2,246.9 474.2,246.9 476.2,246.9 478.2,246.9 480.2,246.9 482.2,246.9 484.2,246.9 486.2,246.9 488.2,246.9 490.2,246.9 492.2,246.9 494.2,246.9 496.2,246.9 498.2,246.9 500.2,246.9 502.2,246.9 504.2,246.9 506.2,246.9 508.2,246.9 510.2,246.9 512.2,246.9 514.2,246.9 516.2,246.9 518.2,246.9 520.2,246.9 522.2,246.9 524.2,246.9 526.2,246.9 528.2,246.9 530.2,246.9 532.2,246.9 534.2,246.9 536.2,246.9 538.2,246.9 540,246.9" stroke-dasharray="4.7 2.8"/>
<path d="M32.2,247.2 34.2,247.2 36.2,247.3 38.2,247.3 40.2,247.3 42.2,247.3 44.2,247.4 46.2,247.4 48.2,247.4 50.2,247.4 52.2,247.5 54.2,247.5 56.2,247.5 58.2,247.6 60.2,247.6 62.2,247.6 64.2,247.6 66.2,247.7 68.2,247.7 70.2,247.7 72.2,247.8 74.2,247.8 76.2,247.8 78.2,247.8 80.2,247.9 82.2,247.9 84.2,247.9 86.2,247.9 88.2,248 90.2,248 92.2,248 94.2,248.1 96.2,248.1 98.2,248.1 100.2,248.1 102.2,248.2 104.2,248.2 106.2,248.2 108.2,248.3 110.2,248.3 112.2,248.3 114.2,248.3 116.2,248.4 118.2,248.4 120.2,248.4 122.2,248.5 124.2,248.5 126.2,248.5 128.2,248.5 130.2,248.6 132.2,248.6 134.2,248.6 136.2,248.6 138.2,248.7 140.2,248.7 142.2,248.7 144.2,248.7 146.2,248.6 148.2,248.4 150.2,248.3 152.2,248.1 154.2,248 156.2,247.8 158.2,247.6 160.2,247.4 162.2,247.2 164.2,247 166.2,246.7 168.2,246.5 170.2,246.2 172.2,245.8 174.2,245.5 176.2,245 178.2,244.6 180.2,244 182.2,243.4 184.2,242.8 186.2,242.1 188.2,241.5 190.2,240.8 192.2,240.1 194.2,239.4 196.2,238.7 198.2,237.9 200.2,237.2 202.2,236.5 204.2,235.7 206.2,235 208.2,234.2 210.2,233.5 212.2,232.7 214.2,231.9 216.2,231 218.2,230.2 220.2,229.2 222.2,228.3 224.2,227.3 226.2,226.4 228.2,225.4 230.2,224.4 232.2,223.4 234.2,222.4 236.2,221.4 238.2,220.3 240.2,219.3 242.2,218.3 244.2,217.2 246.2,216.2 248.2,215.1 250.2,214.1 252.2,213 254.2,212 256.2,210.9 258.2,209.7 260.2,208.6 262.2,207.5 264.2,206.3 266.2,205.1 268.2,203.9 270.2,202.6 272.2,201.1 274.2,199.6 276.2,198.1 278.2,196.6 280.2,195.3 282.2,194 284.2,192.7 286.2,191.5 288.2,190.3 290.2,189.1 292.2,187.8 294.2,186.6 296.2,185.4 298.2,184.3 300.2,183.1 302.2,182 304.2,180.9 306.2,180.1 308.2,179.5 310.2,179 312.2,178.7 314.2,178.6 316.2,178.7 318.2,179 320.2,179.5 322.2,180.1 324.2,181 326.2,182.1 328.2,183.4 330.2,185 332.2,186.7 334.2,188.4 336.2,190.2 338.2,192.1 340.2,194.2 342.2,196.4 344.2,198.6 346.2,200.9 348.2,203.1 350.2,205.4 352.2,207.6 354.2,209.8 356.2,212 358.2,214.1 360.2,216.2 362.2,218.2 364.2,219.9 366.2,221.6 368.2,223.1 370.2,224.5 372.2,226 374.2,227.3 376.2,228.7 378.2,229.9 380.2,231.1 382.2,232.2 384.2,233.2 386.2,234.2 388.2,235.1 390.2,235.9 392.2,236.7 394.2,237.5 396.2,238.1 398.2,238.8 400.2,239.3 402.2,239.8 404.2,240.3 406.2,240.7 408.2,241.2 410.2,241.6 412.2,242 414.2,242.4 416.2,242.7 418.2,243 420.2,243.3 422.2,243.6 424.2,243.8 426.2,244.1 428.2,244.3 430.2,244.5 432.2,244.7 434.2,244.9 436.2,245 438.2,245.2 440.2,245.3 442.2,245.4 444.2,245.5 446.2,245.6 448.2,245.7 450.2,245.7 452.2,245.8 454.2,245.9 456.2,246 458.2,246 460.2,246.1 462.2,246.1 464.2,246.2 466.2,246.2 468.2,246.3 470.2,246.3 472.2,246.3 474.2,246.4 476.2,246.4 478.2,246.4 480.2,246.4 482.2,246.5 484.2,246.5 486.2,246.5 488.2,246.6 490.2,246.6 492.2,246.6 494.2,246.6 496.2,246.6 498.2,246.7 500.2,246.7 502.2,246.7 504.2,246.7 506.2,246.7 508.2,246.8 510.2,246.8 512.2,246.8 514.2,246.8 516.2,246.8 518.2,246.8 520.2,246.8 522.2,246.8 524.2,246.8 526.2,246.8 528.2,246.8 530.2,246.8 532.2,246.8 534.2,246.8 536.2,246.8 538.2,246.8 540,246.8"/>
<path d="M32.2,246.6 34.2,246.6 36.2,246.6 38.2,246.6 40.2,246.7 42.2,246.7 44.2,246.7 46.2,246.7 48.2,246.7 50.2,246.7 52.2,246.7 54.2,246.7 56.2,246.7 58.2,246.7 60.2,246.7 62.2,246.7 64.2,246.7 66.2,246.7 68.2,246.7 70.2,246.7 72.2,246.7 74.2,246.6 76.2,246.6 78.2,246.6 80.2,246.6 82.2,246.6 84.2,246.6 86.2,246.6 88.2,246.6 90.2,246.6 92.2,246.6 94.2,246.6 96.2,246.6 98.2,246.6 100.2,246.6 102.2,246.6 104.2,246.5 106.2,246.5 108.2,246.5 110.2,246.5 112.2,246.5 114.2,246.4 116.2,246.4 118.2,246.4 120.2,246.3 122.2,246.3 124.2,246.3 126.2,246.2 128.2,246.2 130.2,246.1 132.2,246 134.2,245.9 136.2,245.9 138.2,245.8 140.2,245.7 142.2,245.6 144.2,245.4 146.2,245.2 148.2,244.9 150.2,244.6 152.2,244.3 154.2,243.9 156.2,243.6 158.2,243.2 160.2,242.9 162.2,242.5 164.2,242.2 166.2,241.8 168.2,241.4 170.2,241 172.2,240.7 174.2,240.3 176.2,239.8 178.2,239.4 180.2,239 182.2,238.6 184.2,238.1 186.2,237.7 188.2,237.2 190.2,236.7 192.2,236.2 194.2,235.6 196.2,235 198.2,234.3 200.2,233.6 202.2,232.8 204.2,232 206.2,231.2 208.2,230.3 210.2,229.5 212.2,228.6 214.2,227.8 216.2,226.9 218.2,226.1 220.2,225.2 222.2,224.4 224.2,223.6 226.2,222.8 228.2,222.1 230.2,221.3 232.2,220.5 234.2,219.7 236.2,218.9 238.2,218.1 240.2,217.3 242.2,216.4 244.2,215.5 246.2,214.5 248.2,213.5 250.2,212.5 252.2,211.4 254.2,210.2 256.2,208.9 258.2,207.6 260.2,206.3 262.2,204.9 264.2,203.6 266.2,202.3 268.2,201 270.2,199.8 272.2,198.7 274.2,197.7 276.2,196.7 278.2,195.8 280.2,195 282.2,194.2 284.2,193.4 286.2,192.8 288.2,192.2 290.2,191.9 292.2,191.8 294.2,191.8 296.2,192 298.2,192.4 300.2,192.8 302.2,193.4 304.2,194 306.2,194.8 308.2,195.7 310.2,196.8 312.2,198.1 314.2,199.4 316.2,200.9 318.2,202.4 320.2,204 322.2,205.6 324.2,207.3 326.2,209 328.2,210.7 330.2,212.3 332.2,213.9 334.2,215.5 336.2,217 338.2,218.6 340.2,220.1 342.2,221.7 344.2,223.2 346.2,224.7 348.2,226.2 350.2,227.7 352.2,229.1 354.2,230.4 356.2,231.5 358.2,232.6 360.2,233.6 362.2,234.5 364.2,235.3 366.2,236.1 368.2,236.7 370.2,237.4 372.2,237.9 374.2,238.5 376.2,239 378.2,239.5 380.2,239.9 382.2,240.3 384.2,240.7 386.2,241.1 388.2,241.5 390.2,241.8 392.2,242.2 394.2,242.5 396.2,242.8 398.2,243.1 400.2,243.3 402.2,243.5 404.2,243.7 406.2,243.9 408.2,244.1 410.2,244.3 412.2,244.4 414.2,244.6 416.2,244.7 418.2,244.8 420.2,244.9 422.2,245 424.2,245.1 426.2,245.1 428.2,245.2 430.2,245.3 432.2,245.3 434.2,245.4 436.2,245.5 438.2,245.5 440.2,245.6 442.2,245.7 444.2,245.7 446.2,245.8 448.2,245.8 450.2,245.9 452.2,245.9 454.2,246 456.2,246 458.2,246.1 460.2,246.1 462.2,246.2 464.2,246.2 466.2,246.2 468.2,246.3 470.2,246.3 472.2,246.3 474.2,246.4 476.2,246.4 478.2,246.4 480.2,246.4 482.2,246.5 484.2,246.5 486.2,246.5 488.2,246.5 490.2,246.5 492.2,246.6 494.2,246.6 496.2,246.6 498.2,246.6 500.2,246.7 502.2,246.7 504.2,246.7 506.2,246.7 508.2,246.7 510.2,246.7 512.2,246.7 514.2,246.8 516.2,246.8 518.2,246.8 520.2,246.8 522.2,246.8 524.2,246.8 526.2,246.8 528.2,246.8 530.2,246.8 532.2,246.8 534.2,246.8 536.2,246.8 538.2,246.8 540,246.8" stroke-dasharray="4.7 2.8"/>
<path d="M32.2,247.3 34.2,247.4 36.2,247.4 38.2,247.5 40.2,247.6 42.2,247.7 44.2,247.7 46.2,247.8 48.2,247.9 50.2,248 52.2,248 54.2,248.1 56.2,248.2 58.2,248.3 60.2,248.3 62.2,248.4 64.2,248.5 66.2,248.6 68.2,248.7 70.2,248.8 72.2,248.8 74.2,248.9 76.2,249 78.2,249.1 80.2,249.2 82.2,249.3 84.2,249.3 86.2,249.4 88.2,249.5 90.2,249.6 92.2,249.7 94.2,249.8 96.2,249.9 98.2,250 100.2,250.1 102.2,250.2 104.2,250.3 106.2,250.4 108.2,250.5 110.2,250.6 112.2,250.7 114.2,250.8 116.2,250.9 118.2,251 120.2,251.1 122.2,251.2 124.2,251.3 126.2,251.4 128.2,251.5 130.2,251.6 132.2,251.7 134.2,251.8 136.2,251.9 138.2,252 140.2,252.1 142.2,252.2 144.2,252.3 146.2,252.4 148.2,252.5 150.2,252.5 152.2,252.6 154.2,252.7 156.2,252.8 158.2,252.8 160.2,252.9 162.2,253 164.2,253 166.2,253.1 168.2,253.2 170.2,253.2 172.2,253.2 174.2,253.3 176.2,253.3 178.2,253.3 180.2,253.3 182.2,253.2 184.2,253.2 186.2,253.1 188.2,253.1 190.2,253 192.2,253 194.2,252.9 196.2,252.9 198.2,252.8 200.2,252.7 202.2,252.7 204.2,252.6 206.2,252.5 208.2,252.4 210.2,252.2 212.2,252.1 214.2,251.9 216.2,251.7 218.2,251.5 220.2,251.3 222.2,251.1 224.2,250.8 226.2,250.5 228.2,250.1 230.2,249.8 232.2,249.4 234.2,249 236.2,248.6 238.2,248.2 240.2,247.7 242.2,247.3 244.2,246.9 246.2,246.4 248.2,245.9 250.2,245.5 252.2,245 254.2,244.5 256.2,244 258.2,243.5 260.2,243 262.2,242.5 264.2,242 266.2,241.4 268.2,240.9 270.2,240.4 272.2,239.8 274.2,239.3 276.2,238.7 278.2,238.1 280.2,237.5 282.2,236.9 284.2,236.2 286.2,235.6 288.2,234.9 290.2,234.2 292.2,233.5 294.2,232.8 296.2,232.1 298.2,231.3 300.2,230.6 302.2,229.9 304.2,229.1 306.2,228.4 308.2,227.6 310.2,226.8 312.2,226 314.2,225.1 316.2,224.3 318.2,223.4 320.2,222.5 322.2,221.7 324.2,220.7 326.2,219.8 328.2,218.9 330.2,218 332.2,217.3 334.2,216.5 336.2,215.9 338.2,215.2 340.2,214.5 342.2,213.9 344.2,213.2 346.2,212.5 348.2,211.9 350.2,211.4 352.2,210.9 354.2,210.4 356.2,210.1 358.2,209.7 360.2,209.4 362.2,209 364.2,208.7 366.2,208.5 368.2,208.2 370.2,207.9 372.2,207.6 374.2,207.2 376.2,206.6 378.2,206 380.2,205.3 382.2,204.5 384.2,203.5 386.2,202.3 388.2,201 390.2,199.6 392.2,198 394.2,196.4 396.2,194.6 398.2,192.7 400.2,190.7 402.2,188.6 404.2,186.5 406.2,184.4 408.2,182.2 410.2,180.3 412.2,178.7 414.2,177.4 416.2,176.1 418.2,174.9 420.2,173.9 422.2,173.1 424.2,172.5 426.2,172.2 428.2,172.1 430.2,172.5 432.2,173.1 434.2,174.1 436.2,175.2 438.2,176.6 440.2,178.4 442.2,180.7 444.2,183.2 446.2,185.9 448.2,188.7 450.2,191.5 452.2,194.3 454.2,197.1 456.2,200 458.2,202.8 460.2,205.7 462.2,208.6 464.2,211.4 466.2,214.3 468.2,217.1 470.2,220 472.2,222.7 474.2,225.1 476.2,227.3 478.2,229.4 480.2,231.3 482.2,233.1 484.2,234.7 486.2,236.1 488.2,237.3 490.2,238.3 492.2,239.2 494.2,240 496.2,240.7 498.2,241.4 500.2,241.9 502.2,242.4 504.2,242.8 506.2,243.2 508.2,243.6 510.2,243.9 512.2,244.1 514.2,244.4 516.2,244.6 518.2,244.7 520.2,244.9 522.2,245 524.2,245.2 526.2,245.3 528.2,245.4 530.2,245.5 532.2,245.6 534.2,245.7 536.2,245.8 538.2,245.8 540,245.9"/>
<path d="M32.2,247 34.2,247 36.2,247.1 38.2,247.1 40.2,247.1 42.2,247.2 44.2,247.2 46.2,247.2 48.2,247.3 50.2,247.3 52.2,247.4 54.2,247.4 56.2,247.4 58.2,247.5 60.2,247.5 62.2,247.6 64.2,247.6 66.2,247.7 68.2,247.7 70.2,247.7 72.2,247.8 74.2,247.8 76.2,247.9 78.2,247.9 80.2,248 82.2,248 84.2,248.1 86.2,248.1 88.2,248.2 90.2,248.2 92.2,248.3 94.2,248.3 96.2,248.4 98.2,248.4 100.2,248.5 102.2,248.5 104.2,248.6 106.2,248.6 108.2,248.7 110.2,248.8 112.2,248.8 114.2,248.9 116.2,249 118.2,249 120.2,249.1 122.2,249.2 124.2,249.2 126.2,249.3 128.2,249.3 130.2,249.4 132.2,249.5 134.2,249.5 136.2,249.6 138.2,249.6 140.2,249.7 142.2,249.8 144.2,249.8 146.2,249.9 148.2,249.9 150.2,249.9 152.2,250 154.2,250 156.2,250 158.2,250 160.2,250 162.2,250.1 164.2,250.1 166.2,250.1 168.2,250.1 170.2,250.1 172.2,250.1 174.2,250.1 176.2,250 178.2,250 180.2,249.9 182.2,249.9 184.2,249.8 186.2,249.7 188.2,249.5 190.2,249.4 192.2,249.2 194.2,249 196.2,248.8 198.2,248.6 200.2,248.4 202.2,248.1 204.2,247.9 206.2,247.6 208.2,247.3 210.2,247 212.2,246.7 214.2,246.3 216.2,246 218.2,245.7 220.2,245.3 222.2,245 224.2,244.6 226.2,244.3 228.2,244 230.2,243.6 232.2,243.3 234.2,242.9 236.2,242.6 238.2,242.2 240.2,241.8 242.2,241.4 244.2,240.9 246.2,240.5 248.2,240 250.2,239.5 252.2,239 254.2,238.4 256.2,237.7 258.2,236.9 260.2,236.2 262.2,235.4 264.2,234.7 266.2,233.9 268.2,233.3 270.2,232.7 272.2,232.1 274.2,231.5 276.2,231 278.2,230.4 280.2,229.9 282.2,229.3 284.2,228.7 286.2,228.2 288.2,227.6 290.2,227 292.2,226.4 294.2,225.9 296.2,225.3 298.2,224.7 300.2,224.1 302.2,223.5 304.2,222.9 306.2,222.4 308.2,221.8 310.2,221.2 312.2,220.6 314.2,220.1 316.2,219.5 318.2,219 320.2,218.5 322.2,218 324.2,217.5 326.2,216.9 328.2,216.4 330.2,215.8 332.2,215.2 334.2,214.6 336.2,213.9 338.2,213.1 340.2,212.2 342.2,211.2 344.2,210.2 346.2,209 348.2,207.7 350.2,206.3 352.2,204.9 354.2,203.4 356.2,201.9 358.2,200.4 360.2,199 362.2,197.5 364.2,195.9 366.2,194.4 368.2,192.9 370.2,191.5 372.2,190.2 374.2,189.2 376.2,188.4 378.2,187.7 380.2,187.1 382.2,186.5 384.2,186.2 386.2,186.1 388.2,186.2 390.2,186.6 392.2,187.2 394.2,188.1 396.2,189.2 398.2,190.4 400.2,191.8 402.2,193.4 404.2,195.1 406.2,196.9 408.2,198.9 410.2,201.1 412.2,203.5 414.2,205.9 416.2,208.4 418.2,210.9 420.2,213.2 422.2,215.5 424.2,217.7 426.2,219.9 428.2,222 430.2,224.1 432.2,226.1 434.2,228 436.2,229.7 438.2,231.3 440.2,232.7 442.2,234 444.2,235.1 446.2,236.1 448.2,237 450.2,237.7 452.2,238.4 454.2,239.1 456.2,239.8 458.2,240.4 460.2,240.9 462.2,241.5 464.2,241.9 466.2,242.4 468.2,242.8 470.2,243 472.2,243.2 474.2,243.4 476.2,243.6 478.2,243.7 480.2,243.9 482.2,244.1 484.2,244.2 486.2,244.4 488.2,244.5 490.2,244.6 492.2,244.8 494.2,244.9 496.2,245.1 498.2,245.2 500.2,245.3 502.2,245.4 504.2,245.5 506.2,245.6 508.2,245.7 510.2,245.8 512.2,245.8 514.2,245.9 516.2,246 518.2,246 520.2,246.1 522.2,246.1 524.2,246.2 526.2,246.2 528.2,246.2 530.2,246.2 532.2,246.3 534.2,246.3 536.2,246.3 538.2,246.3 540,246.3" stroke-dasharray="4.7 2.8"/>
</g>
<g font-family="'Liberation Serif', serif" font-size="7.6" fill="#111" stroke="#111" stroke-width="0.15">
<text x="29.6" y="249.9" text-anchor="end">0.0</text>
<text x="29.6" y="226.7" text-anchor="end">0.2</text>
<text x="29.6" y="203.5" text-anchor="end">0.4</text>
<text x="29.6" y="180.2" text-anchor="end">0.6</text>
<text x="29.6" y="157" text-anchor="end">0.8</text>
<text x="93.1" y="265" text-anchor="middle">−50</text>
<text x="194.7" y="265" text-anchor="middle">0</text>
<text x="296.2" y="265" text-anchor="middle">50</text>
<text x="397.8" y="265" text-anchor="middle">100</text>
<text x="499.3" y="265" text-anchor="middle">150</text>
</g>
</g>
<g id="plot-c">
<clipPath id="clip-c"><rect x="32.2" y="301.7" width="517.9" height="105"/></clipPath>
<path d="M52.9,405.7v-2.2M52.9,302.7v2.2M73.6,405.7v-2.2M73.6,302.7v2.2M94.2,405.7v-3.3M94.2,302.7v3.3M114.9,405.7v-2.2M114.9,302.7v2.2M135.6,405.7v-2.2M135.6,302.7v2.2M156.3,405.7v-2.2M156.3,302.7v2.2M176.9,405.7v-2.2M176.9,302.7v2.2M197.6,405.7v-3.3M197.6,302.7v3.3M218.3,405.7v-2.2M218.3,302.7v2.2M239,405.7v-2.2M239,302.7v2.2M259.6,405.7v-2.2M259.6,302.7v2.2M280.3,405.7v-2.2M280.3,302.7v2.2M301,405.7v-3.3M301,302.7v3.3M321.7,405.7v-2.2M321.7,302.7v2.2M342.3,405.7v-2.2M342.3,302.7v2.2M363,405.7v-2.2M363,302.7v2.2M383.7,405.7v-2.2M383.7,302.7v2.2M404.4,405.7v-3.3M404.4,302.7v3.3M425,405.7v-2.2M425,302.7v2.2M445.7,405.7v-2.2M445.7,302.7v2.2M466.4,405.7v-2.2M466.4,302.7v2.2M487.1,405.7v-2.2M487.1,302.7v2.2M507.7,405.7v-3.3M507.7,302.7v3.3M528.4,405.7v-2.2M528.4,302.7v2.2M32.2,403.2h2.2M549.1,403.2h-2.2M32.2,397.3h3.3M549.1,397.3h-3.3M32.2,391.4h2.2M549.1,391.4h-2.2M32.2,385.4h2.2M549.1,385.4h-2.2M32.2,379.5h2.2M549.1,379.5h-2.2M32.2,373.6h3.3M549.1,373.6h-3.3M32.2,367.7h2.2M549.1,367.7h-2.2M32.2,361.7h2.2M549.1,361.7h-2.2M32.2,355.8h2.2M549.1,355.8h-2.2M32.2,349.9h3.3M549.1,349.9h-3.3M32.2,343.9h2.2M549.1,343.9h-2.2M32.2,338h2.2M549.1,338h-2.2M32.2,332.1h2.2M549.1,332.1h-2.2M32.2,326.1h3.3M549.1,326.1h-3.3M32.2,320.2h2.2M549.1,320.2h-2.2M32.2,314.3h2.2M549.1,314.3h-2.2M32.2,308.4h2.2M549.1,308.4h-2.2" stroke="#8c8c8c" stroke-width="0.9" fill="none"/>
<rect x="32.2" y="302.7" width="516.9" height="103" fill="none" stroke="#a2a2a2" stroke-width="0.85"/>
<g clip-path="url(#clip-c)" fill="none" stroke="#33338f" stroke-width="1.3" stroke-linejoin="round">
<path d="M32.2,395 34.2,394.9 36.2,394.8 38.2,394.7 40.2,394.5 42.2,394.4 44.2,394.3 46.2,394.2 48.2,394 50.2,393.9 52.2,393.7 54.2,393.6 56.2,393.4 58.2,393.2 60.2,393 62.2,392.9 64.2,392.6 66.2,392.4 68.2,392.2 70.2,391.9 72.2,391.7 74.2,391.4 76.2,391.1 78.2,390.8 80.2,390.5 82.2,390.2 84.2,389.8 86.2,389.5 88.2,389.1 90.2,388.7 92.2,388.2 94.2,387.8 96.2,387.3 98.2,386.8 100.2,386.2 102.2,385.7 104.2,385.1 106.2,384.5 108.2,383.8 110.2,383.2 112.2,382.4 114.2,381.7 116.2,380.9 118.2,380.1 120.2,379.2 122.2,378.3 124.2,377.4 126.2,376.4 128.2,375.4 130.2,374.4 132.2,373.3 134.2,372.2 136.2,371 138.2,369.8 140.2,368.6 142.2,367.3 144.2,366 146.2,364.7 148.2,363.4 150.2,362 152.2,360.6 154.2,359.2 156.2,357.8 158.2,356.4 160.2,354.9 162.2,353.5 164.2,352.1 166.2,350.8 168.2,349.4 170.2,348.1 172.2,346.9 174.2,345.7 176.2,344.5 178.2,343.5 180.2,342.5 182.2,341.6 184.2,340.8 186.2,340 188.2,339.4 190.2,338.9 192.2,338.6 194.2,338.3 196.2,338.1 198.2,338.1 200.2,338.2 202.2,338.4 204.2,338.8 206.2,339.2 208.2,339.8 210.2,340.5 212.2,341.2 214.2,342.1 216.2,343.1 218.2,344.1 220.2,345.2 222.2,346.4 224.2,347.7 226.2,349 228.2,350.3 230.2,351.7 232.2,353.1 234.2,354.6 236.2,356 238.2,357.5 240.2,358.9 242.2,360.4 244.2,361.8 246.2,363.3 248.2,364.7 250.2,366.1 252.2,367.4 254.2,368.7 256.2,370 258.2,371.3 260.2,372.5 262.2,373.7 264.2,374.9 266.2,376 268.2,377.1 270.2,378.1 272.2,379.1 274.2,380 276.2,380.9 278.2,381.8 280.2,382.7 282.2,383.4 284.2,384.2 286.2,384.9 288.2,385.6 290.2,386.3 292.2,386.9 294.2,387.5 296.2,388 298.2,388.6 300.2,389.1 302.2,389.5 304.2,390 306.2,390.4 308.2,390.8 310.2,391.2 312.2,391.6 314.2,391.9 316.2,392.2 318.2,392.5 320.2,392.8 322.2,393.1 324.2,393.3 326.2,393.6 328.2,393.8 330.2,394 332.2,394.2 334.2,394.4 336.2,394.6 338.2,394.7 340.2,394.9 342.2,395 344.2,395.2 346.2,395.3 348.2,395.4 350.2,395.5 352.2,395.6 354.2,395.8 356.2,395.8 358.2,395.9 360.2,396 362.2,396.1 364.2,396.2 366.2,396.2 368.2,396.3 370.2,396.4 372.2,396.4 374.2,396.5 376.2,396.5 378.2,396.6 380.2,396.6 382.2,396.7 384.2,396.7 386.2,396.7 388.2,396.8 390.2,396.8 392.2,396.8 394.2,396.9 396.2,396.9 398.2,396.9 400.2,396.9 402.2,397 404.2,397 406.2,397 408.2,397 410.2,397 412.2,397.1 414.2,397.1 416.2,397.1 418.2,397.1 420.2,397.1 422.2,397.1 424.2,397.1 426.2,397.1 428.2,397.2 430.2,397.2 432.2,397.2 434.2,397.2 436.2,397.2 438.2,397.2 440.2,397.2 442.2,397.2 444.2,397.2 446.2,397.2 448.2,397.2 450.2,397.2 452.2,397.2 454.2,397.2 456.2,397.2 458.2,397.2 460.2,397.2 462.2,397.3 464.2,397.3 466.2,397.3 468.2,397.3 470.2,397.3 472.2,397.3 474.2,397.3 476.2,397.3 478.2,397.3 480.2,397.3 482.2,397.3 484.2,397.3 486.2,397.3 488.2,397.3 490.2,397.3 492.2,397.3 494.2,397.3 496.2,397.3 498.2,397.3 500.2,397.3 502.2,397.3 504.2,397.3 506.2,397.3 508.2,397.3 510.2,397.3 512.2,397.3 514.2,397.3 516.2,397.3 518.2,397.3 520.2,397.3 522.2,397.3 524.2,397.3 526.2,397.3 528.2,397.3 530.2,397.3 532.2,397.3 534.2,397.3 536.2,397.3 538.2,397.3 540.2,397.3 542.2,397.3 544.2,397.3 546.2,397.3 548.2,397.3 550,397.3"/>
<path d="M32.2,395.1 34.2,395 36.2,394.9 38.2,394.8 40.2,394.7 42.2,394.6 44.2,394.5 46.2,394.4 48.2,394.3 50.2,394.1 52.2,394 54.2,393.8 56.2,393.7 58.2,393.5 60.2,393.3 62.2,393.1 64.2,393 66.2,392.8 68.2,392.5 70.2,392.3 72.2,392.1 74.2,391.8 76.2,391.5 78.2,391.3 80.2,391 82.2,390.7 84.2,390.3 86.2,390 88.2,389.6 90.2,389.2 92.2,388.8 94.2,388.4 96.2,388 98.2,387.5 100.2,387 102.2,386.5 104.2,385.9 106.2,385.3 108.2,384.7 110.2,384.1 112.2,383.4 114.2,382.7 116.2,382 118.2,381.2 120.2,380.5 122.2,379.6 124.2,378.8 126.2,377.8 128.2,376.9 130.2,375.9 132.2,374.9 134.2,373.9 136.2,372.8 138.2,371.7 140.2,370.5 142.2,369.3 144.2,368.1 146.2,366.9 148.2,365.6 150.2,364.4 152.2,363.1 154.2,361.7 156.2,360.4 158.2,359.1 160.2,357.8 162.2,356.5 164.2,355.2 166.2,353.9 168.2,352.6 170.2,351.4 172.2,350.3 174.2,349.1 176.2,348.1 178.2,347.1 180.2,346.2 182.2,345.3 184.2,344.6 186.2,343.9 188.2,343.3 190.2,342.9 192.2,342.5 194.2,342.3 196.2,342.1 198.2,342.1 200.2,342.2 202.2,342.4 204.2,342.7 206.2,343.1 208.2,343.7 210.2,344.3 212.2,345 214.2,345.8 216.2,346.7 218.2,347.7 220.2,348.7 222.2,349.8 224.2,351 226.2,352.2 228.2,353.5 230.2,354.8 232.2,356.1 234.2,357.4 236.2,358.8 238.2,360.1 240.2,361.5 242.2,362.9 244.2,364.2 246.2,365.5 248.2,366.9 250.2,368.1 252.2,369.4 254.2,370.7 256.2,371.9 258.2,373.1 260.2,374.2 262.2,375.3 264.2,376.4 266.2,377.4 268.2,378.4 270.2,379.4 272.2,380.3 274.2,381.2 276.2,382 278.2,382.9 280.2,383.6 282.2,384.4 284.2,385.1 286.2,385.8 288.2,386.4 290.2,387 292.2,387.6 294.2,388.1 296.2,388.7 298.2,389.2 300.2,389.6 302.2,390.1 304.2,390.5 306.2,390.9 308.2,391.3 310.2,391.6 312.2,392 314.2,392.3 316.2,392.6 318.2,392.8 320.2,393.1 322.2,393.4 324.2,393.6 326.2,393.8 328.2,394 330.2,394.2 332.2,394.4 334.2,394.6 336.2,394.8 338.2,394.9 340.2,395.1 342.2,395.2 344.2,395.3 346.2,395.4 348.2,395.6 350.2,395.7 352.2,395.8 354.2,395.9 356.2,395.9 358.2,396 360.2,396.1 362.2,396.2 364.2,396.2 366.2,396.3 368.2,396.4 370.2,396.4 372.2,396.5 374.2,396.5 376.2,396.6 378.2,396.6 380.2,396.7 382.2,396.7 384.2,396.7 386.2,396.8 388.2,396.8 390.2,396.8 392.2,396.9 394.2,396.9 396.2,396.9 398.2,396.9 400.2,397 402.2,397 404.2,397 406.2,397 408.2,397 410.2,397.1 412.2,397.1 414.2,397.1 416.2,397.1 418.2,397.1 420.2,397.1 422.2,397.1 424.2,397.1 426.2,397.2 428.2,397.2 430.2,397.2 432.2,397.2 434.2,397.2 436.2,397.2 438.2,397.2 440.2,397.2 442.2,397.2 444.2,397.2 446.2,397.2 448.2,397.2 450.2,397.2 452.2,397.2 454.2,397.2 456.2,397.2 458.2,397.2 460.2,397.3 462.2,397.3 464.2,397.3 466.2,397.3 468.2,397.3 470.2,397.3 472.2,397.3 474.2,397.3 476.2,397.3 478.2,397.3 480.2,397.3 482.2,397.3 484.2,397.3 486.2,397.3 488.2,397.3 490.2,397.3 492.2,397.3 494.2,397.3 496.2,397.3 498.2,397.3 500.2,397.3 502.2,397.3 504.2,397.3 506.2,397.3 508.2,397.3 510.2,397.3 512.2,397.3 514.2,397.3 516.2,397.3 518.2,397.3 520.2,397.3 522.2,397.3 524.2,397.3 526.2,397.3 528.2,397.3 530.2,397.3 532.2,397.3 534.2,397.3 536.2,397.3 538.2,397.3 540.2,397.3 542.2,397.3 544.2,397.3 546.2,397.3 548.2,397.3 550,397.3" stroke-dasharray="4.7 2.8"/>
<path d="M32.2,397.5 34.2,397.5 36.2,397.6 38.2,397.6 40.2,397.6 42.2,397.6 44.2,397.7 46.2,397.7 48.2,397.7 50.2,397.7 52.2,397.8 54.2,397.8 56.2,397.8 58.2,397.8 60.2,397.9 62.2,397.9 64.2,397.9 66.2,397.9 68.2,398 70.2,398 72.2,398 74.2,398 76.2,398 78.2,398.1 80.2,398.1 82.2,398.1 84.2,398.1 86.2,398.2 88.2,398.2 90.2,398.2 92.2,398.2 94.2,398.2 96.2,398.3 98.2,398.3 100.2,398.3 102.2,398.3 104.2,398.3 106.2,398.4 108.2,398.4 110.2,398.4 112.2,398.4 114.2,398.4 116.2,398.4 118.2,398.5 120.2,398.5 122.2,398.5 124.2,398.5 126.2,398.5 128.2,398.5 130.2,398.5 132.2,398.5 134.2,398.5 136.2,398.5 138.2,398.5 140.2,398.5 142.2,398.5 144.2,398.4 146.2,398.3 148.2,398.2 150.2,398 152.2,397.8 154.2,397.6 156.2,397.4 158.2,397.2 160.2,397 162.2,396.8 164.2,396.5 166.2,396.3 168.2,396 170.2,395.7 172.2,395.3 174.2,395 176.2,394.6 178.2,394.1 180.2,393.6 182.2,393 184.2,392.5 186.2,391.9 188.2,391.3 190.2,390.6 192.2,390 194.2,389.3 196.2,388.6 198.2,387.9 200.2,387.2 202.2,386.5 204.2,385.8 206.2,385 208.2,384.3 210.2,383.6 212.2,382.8 214.2,382 216.2,381.3 218.2,380.5 220.2,379.6 222.2,378.8 224.2,378 226.2,377.1 228.2,376.2 230.2,375.4 232.2,374.5 234.2,373.6 236.2,372.7 238.2,371.8 240.2,370.9 242.2,370 244.2,369.1 246.2,368.1 248.2,367.1 250.2,366.1 252.2,365 254.2,363.8 256.2,362.6 258.2,361.4 260.2,360.1 262.2,358.9 264.2,357.6 266.2,356.3 268.2,355 270.2,353.6 272.2,352.3 274.2,351 276.2,349.6 278.2,348.3 280.2,346.9 282.2,345.5 284.2,344.1 286.2,342.8 288.2,341.4 290.2,340.1 292.2,338.8 294.2,337.6 296.2,336.4 298.2,335.2 300.2,334.1 302.2,333.1 304.2,332.2 306.2,331.5 308.2,331 310.2,330.5 312.2,330.2 314.2,330 316.2,329.9 318.2,330.1 320.2,330.4 322.2,330.9 324.2,331.6 326.2,332.6 328.2,333.7 330.2,335 332.2,336.4 334.2,337.8 336.2,339.3 338.2,340.9 340.2,342.9 342.2,345.1 344.2,347.2 346.2,349.4 348.2,351.7 350.2,353.9 352.2,356.1 354.2,358.3 356.2,360.6 358.2,362.8 360.2,365 362.2,367 364.2,368.8 366.2,370.4 368.2,371.9 370.2,373.4 372.2,374.8 374.2,376.3 376.2,377.7 378.2,379 380.2,380.3 382.2,381.4 384.2,382.5 386.2,383.6 388.2,384.5 390.2,385.3 392.2,386.1 394.2,386.8 396.2,387.5 398.2,388.1 400.2,388.7 402.2,389.2 404.2,389.8 406.2,390.3 408.2,390.8 410.2,391.3 412.2,391.8 414.2,392.2 416.2,392.6 418.2,393 420.2,393.3 422.2,393.6 424.2,393.8 426.2,394.1 428.2,394.3 430.2,394.5 432.2,394.7 434.2,394.9 436.2,395 438.2,395.2 440.2,395.3 442.2,395.4 444.2,395.5 446.2,395.6 448.2,395.8 450.2,395.9 452.2,396 454.2,396.1 456.2,396.2 458.2,396.3 460.2,396.4 462.2,396.4 464.2,396.5 466.2,396.6 468.2,396.7 470.2,396.7 472.2,396.8 474.2,396.8 476.2,396.8 478.2,396.9 480.2,396.9 482.2,397 484.2,397 486.2,397 488.2,397.1 490.2,397.1 492.2,397.1 494.2,397.2 496.2,397.2 498.2,397.2 500.2,397.2 502.2,397.3 504.2,397.3 506.2,397.3 508.2,397.3 510.2,397.3 512.2,397.3 514.2,397.4 516.2,397.4 518.2,397.4 520.2,397.4 522.2,397.4 524.2,397.4 526.2,397.4 528.2,397.4 530.2,397.4 532.2,397.4 534.2,397.4 536.2,397.3 538.2,397.3 540.2,397.3 542.2,397.3 544.2,397.3 546.2,397.2 548.2,397.2 550,397.2"/>
<path d="M32.2,397.3 34.2,397.3 36.2,397.3 38.2,397.4 40.2,397.4 42.2,397.4 44.2,397.4 46.2,397.4 48.2,397.4 50.2,397.4 52.2,397.4 54.2,397.4 56.2,397.5 58.2,397.5 60.2,397.5 62.2,397.5 64.2,397.5 66.2,397.5 68.2,397.5 70.2,397.5 72.2,397.5 74.2,397.5 76.2,397.5 78.2,397.5 80.2,397.5 82.2,397.5 84.2,397.5 86.2,397.5 88.2,397.5 90.2,397.5 92.2,397.5 94.2,397.5 96.2,397.5 98.2,397.5 100.2,397.5 102.2,397.5 104.2,397.5 106.2,397.4 108.2,397.4 110.2,397.4 112.2,397.4 114.2,397.4 116.2,397.4 118.2,397.3 120.2,397.3 122.2,397.3 124.2,397.3 126.2,397.2 128.2,397.2 130.2,397.2 132.2,397.1 134.2,397.1 136.2,397.1 138.2,397 140.2,397 142.2,396.9 144.2,396.9 146.2,396.8 148.2,396.7 150.2,396.5 152.2,396.4 154.2,396.2 156.2,396 158.2,395.8 160.2,395.6 162.2,395.3 164.2,395.1 166.2,394.7 168.2,394.4 170.2,394.1 172.2,393.7 174.2,393.3 176.2,392.9 178.2,392.5 180.2,392 182.2,391.5 184.2,391 186.2,390.4 188.2,389.8 190.2,389.2 192.2,388.6 194.2,387.9 196.2,387.3 198.2,386.6 200.2,385.9 202.2,385.2 204.2,384.5 206.2,383.8 208.2,383 210.2,382.3 212.2,381.6 214.2,380.8 216.2,380 218.2,379.2 220.2,378.4 222.2,377.6 224.2,376.8 226.2,376 228.2,375.1 230.2,374.3 232.2,373.5 234.2,372.6 236.2,371.8 238.2,370.9 240.2,370.1 242.2,369.3 244.2,368.4 246.2,367.6 248.2,366.7 250.2,365.7 252.2,364.6 254.2,363.3 256.2,362 258.2,360.6 260.2,359.2 262.2,357.7 264.2,356.3 266.2,354.8 268.2,353.4 270.2,352 272.2,350.7 274.2,349.4 276.2,348 278.2,346.7 280.2,345.4 282.2,344.1 284.2,342.8 286.2,341.6 288.2,340.3 290.2,339.1 292.2,338.1 294.2,337.3 296.2,336.8 298.2,336.4 300.2,336 302.2,335.7 304.2,335.7 306.2,335.9 308.2,336.2 310.2,336.6 312.2,337 314.2,337.6 316.2,338.1 318.2,338.9 320.2,340 322.2,341.4 324.2,342.9 326.2,344.5 328.2,346.2 330.2,348 332.2,349.8 334.2,351.6 336.2,353.4 338.2,355.2 340.2,357 342.2,358.8 344.2,360.6 346.2,362.4 348.2,364.2 350.2,366 352.2,367.7 354.2,369.2 356.2,370.6 358.2,371.9 360.2,373.3 362.2,374.8 364.2,376.2 366.2,377.6 368.2,379 370.2,380.3 372.2,381.6 374.2,382.7 376.2,383.7 378.2,384.6 380.2,385.3 382.2,386 384.2,386.6 386.2,387.2 388.2,387.8 390.2,388.3 392.2,388.8 394.2,389.3 396.2,389.8 398.2,390.3 400.2,390.7 402.2,391.1 404.2,391.5 406.2,391.9 408.2,392.2 410.2,392.5 412.2,392.9 414.2,393.2 416.2,393.4 418.2,393.7 420.2,393.9 422.2,394.1 424.2,394.3 426.2,394.5 428.2,394.7 430.2,394.8 432.2,395 434.2,395.1 436.2,395.3 438.2,395.4 440.2,395.5 442.2,395.6 444.2,395.7 446.2,395.8 448.2,395.9 450.2,396 452.2,396.1 454.2,396.2 456.2,396.3 458.2,396.3 460.2,396.4 462.2,396.5 464.2,396.5 466.2,396.6 468.2,396.7 470.2,396.7 472.2,396.7 474.2,396.8 476.2,396.8 478.2,396.9 480.2,396.9 482.2,396.9 484.2,397 486.2,397 488.2,397 490.2,397.1 492.2,397.1 494.2,397.1 496.2,397.2 498.2,397.2 500.2,397.2 502.2,397.2 504.2,397.2 506.2,397.3 508.2,397.3 510.2,397.3 512.2,397.3 514.2,397.3 516.2,397.3 518.2,397.3 520.2,397.3 522.2,397.3 524.2,397.3 526.2,397.3 528.2,397.3 530.2,397.3 532.2,397.3 534.2,397.3 536.2,397.3 538.2,397.3 540.2,397.3 542.2,397.3 544.2,397.3 546.2,397.2 548.2,397.2 550,397.2" stroke-dasharray="4.7 2.8"/>
<path d="M32.2,397.8 34.2,397.8 36.2,397.9 38.2,397.9 40.2,397.9 42.2,398 44.2,398 46.2,398.1 48.2,398.1 50.2,398.2 52.2,398.2 54.2,398.3 56.2,398.3 58.2,398.4 60.2,398.4 62.2,398.5 64.2,398.6 66.2,398.6 68.2,398.7 70.2,398.8 72.2,398.8 74.2,398.9 76.2,399 78.2,399 80.2,399.1 82.2,399.2 84.2,399.3 86.2,399.3 88.2,399.4 90.2,399.5 92.2,399.6 94.2,399.7 96.2,399.8 98.2,399.9 100.2,400 102.2,400 104.2,400.2 106.2,400.3 108.2,400.4 110.2,400.5 112.2,400.6 114.2,400.7 116.2,400.8 118.2,400.9 120.2,401 122.2,401.2 124.2,401.3 126.2,401.4 128.2,401.5 130.2,401.7 132.2,401.8 134.2,401.9 136.2,402 138.2,402.2 140.2,402.3 142.2,402.5 144.2,402.6 146.2,402.8 148.2,403 150.2,403.3 152.2,403.5 154.2,403.7 156.2,403.9 158.2,404.1 160.2,404.2 162.2,404.4 164.2,404.5 166.2,404.6 168.2,404.6 170.2,404.7 172.2,404.7 174.2,404.7 176.2,404.7 178.2,404.7 180.2,404.6 182.2,404.5 184.2,404.4 186.2,404.2 188.2,404.1 190.2,403.9 192.2,403.8 194.2,403.6 196.2,403.4 198.2,403.1 200.2,402.9 202.2,402.7 204.2,402.4 206.2,402.2 208.2,401.9 210.2,401.7 212.2,401.4 214.2,401.1 216.2,400.9 218.2,400.6 220.2,400.3 222.2,400 224.2,399.7 226.2,399.4 228.2,399.1 230.2,398.8 232.2,398.5 234.2,398.2 236.2,397.9 238.2,397.6 240.2,397.2 242.2,396.9 244.2,396.5 246.2,396.2 248.2,395.8 250.2,395.4 252.2,395 254.2,394.5 256.2,394.1 258.2,393.7 260.2,393.2 262.2,392.7 264.2,392.2 266.2,391.7 268.2,391.2 270.2,390.7 272.2,390.1 274.2,389.5 276.2,388.9 278.2,388.3 280.2,387.7 282.2,387 284.2,386.3 286.2,385.6 288.2,384.8 290.2,384.1 292.2,383.4 294.2,382.6 296.2,381.9 298.2,381.1 300.2,380.4 302.2,379.6 304.2,378.9 306.2,378.1 308.2,377.4 310.2,376.6 312.2,375.8 314.2,375.1 316.2,374.3 318.2,373.5 320.2,372.7 322.2,372 324.2,371.2 326.2,370.5 328.2,369.8 330.2,369 332.2,368.3 334.2,367.6 336.2,367 338.2,366.3 340.2,365.6 342.2,365 344.2,364.4 346.2,363.8 348.2,363.3 350.2,362.8 352.2,362.5 354.2,362.1 356.2,361.8 358.2,361.5 360.2,361.2 362.2,360.9 364.2,360.6 366.2,360.3 368.2,360.1 370.2,359.8 372.2,359.3 374.2,358.8 376.2,358.1 378.2,357.3 380.2,356.5 382.2,355.6 384.2,354.6 386.2,353.5 388.2,352.2 390.2,350.5 392.2,348.7 394.2,346.8 396.2,345 398.2,343.1 400.2,341.2 402.2,339.3 404.2,337.4 406.2,335.5 408.2,333.6 410.2,331.7 412.2,330 414.2,328.5 416.2,327.3 418.2,326.2 420.2,325.1 422.2,324.2 424.2,323.6 426.2,323.3 428.2,323.3 430.2,323.6 432.2,324.2 434.2,325.3 436.2,326.9 438.2,328.9 440.2,331.1 442.2,333.3 444.2,335.7 446.2,338.1 448.2,340.6 450.2,343.1 452.2,345.5 454.2,348 456.2,350.5 458.2,353 460.2,355.5 462.2,358.1 464.2,360.9 466.2,363.6 468.2,366.4 470.2,369.1 472.2,371.6 474.2,373.9 476.2,376.2 478.2,378.3 480.2,380.2 482.2,382 484.2,383.6 486.2,385 488.2,386.2 490.2,387.3 492.2,388.3 494.2,389.1 496.2,390 498.2,390.7 500.2,391.3 502.2,391.9 504.2,392.4 506.2,392.9 508.2,393.3 510.2,393.7 512.2,394 514.2,394.3 516.2,394.5 518.2,394.7 520.2,394.9 522.2,395 524.2,395.2 526.2,395.3 528.2,395.4 530.2,395.6 532.2,395.7 534.2,395.8 536.2,395.9 538.2,396 540.2,396.1 542.2,396.1 544.2,396.2 546.2,396.2 548.2,396.3 550,396.3"/>
<path d="M32.2,397.5 34.2,397.5 36.2,397.5 38.2,397.5 40.2,397.5 42.2,397.6 44.2,397.6 46.2,397.6 48.2,397.6 50.2,397.7 52.2,397.7 54.2,397.7 56.2,397.7 58.2,397.8 60.2,397.8 62.2,397.8 64.2,397.9 66.2,397.9 68.2,398 70.2,398 72.2,398 74.2,398.1 76.2,398.1 78.2,398.2 80.2,398.2 82.2,398.3 84.2,398.3 86.2,398.4 88.2,398.4 90.2,398.5 92.2,398.6 94.2,398.6 96.2,398.7 98.2,398.8 100.2,398.8 102.2,398.9 104.2,399 106.2,399.1 108.2,399.2 110.2,399.2 112.2,399.3 114.2,399.4 116.2,399.5 118.2,399.6 120.2,399.7 122.2,399.8 124.2,399.9 126.2,400 128.2,400.1 130.2,400.2 132.2,400.3 134.2,400.4 136.2,400.5 138.2,400.6 140.2,400.7 142.2,400.8 144.2,401 146.2,401.2 148.2,401.4 150.2,401.6 152.2,401.8 154.2,401.9 156.2,402.1 158.2,402.2 160.2,402.3 162.2,402.4 164.2,402.4 166.2,402.4 168.2,402.4 170.2,402.3 172.2,402.2 174.2,402.2 176.2,402.1 178.2,402 180.2,401.9 182.2,401.8 184.2,401.7 186.2,401.6 188.2,401.5 190.2,401.3 192.2,401.2 194.2,401.1 196.2,400.9 198.2,400.8 200.2,400.6 202.2,400.4 204.2,400.2 206.2,400 208.2,399.8 210.2,399.6 212.2,399.4 214.2,399.1 216.2,398.9 218.2,398.6 220.2,398.3 222.2,398 224.2,397.7 226.2,397.4 228.2,397.1 230.2,396.8 232.2,396.4 234.2,396.1 236.2,395.7 238.2,395.4 240.2,395 242.2,394.7 244.2,394.3 246.2,393.9 248.2,393.4 250.2,392.9 252.2,392.4 254.2,391.9 256.2,391.3 258.2,390.8 260.2,390.2 262.2,389.6 264.2,389 266.2,388.3 268.2,387.7 270.2,387.1 272.2,386.4 274.2,385.8 276.2,385.1 278.2,384.5 280.2,383.8 282.2,383.2 284.2,382.5 286.2,381.9 288.2,381.2 290.2,380.5 292.2,379.9 294.2,379.2 296.2,378.5 298.2,377.8 300.2,377.1 302.2,376.4 304.2,375.7 306.2,375 308.2,374.3 310.2,373.6 312.2,373 314.2,372.4 316.2,371.7 318.2,371.1 320.2,370.5 322.2,369.9 324.2,369.3 326.2,368.7 328.2,368.1 330.2,367.5 332.2,366.9 334.2,366.3 336.2,365.7 338.2,365.1 340.2,364.5 342.2,364 344.2,363.4 346.2,362.9 348.2,362.4 350.2,362 352.2,361.5 354.2,361.1 356.2,360.7 358.2,360.3 360.2,359.8 362.2,359.2 364.2,358.3 366.2,357.2 368.2,356 370.2,354.7 372.2,353.2 374.2,351.8 376.2,350.2 378.2,348.6 380.2,347 382.2,345.3 384.2,343.5 386.2,341.7 388.2,339.9 390.2,338.2 392.2,336.7 394.2,335.4 396.2,334.3 398.2,333.2 400.2,332.2 402.2,331.3 404.2,330.6 406.2,330.1 408.2,330 410.2,330.2 412.2,330.7 414.2,331.4 416.2,332.4 418.2,333.6 420.2,335.1 422.2,336.7 424.2,338.3 426.2,340.1 428.2,342 430.2,344 432.2,346.1 434.2,348.3 436.2,350.5 438.2,352.7 440.2,355 442.2,357.3 444.2,359.8 446.2,362.2 448.2,364.6 450.2,367 452.2,369.2 454.2,371.2 456.2,373.2 458.2,375.1 460.2,377 462.2,378.9 464.2,380.7 466.2,382.4 468.2,384 470.2,385.4 472.2,386.7 474.2,387.7 476.2,388.6 478.2,389.3 480.2,389.9 482.2,390.4 484.2,391 486.2,391.5 488.2,391.9 490.2,392.3 492.2,392.7 494.2,393 496.2,393.4 498.2,393.7 500.2,393.9 502.2,394.1 504.2,394.3 506.2,394.4 508.2,394.6 510.2,394.7 512.2,394.8 514.2,395 516.2,395.1 518.2,395.2 520.2,395.3 522.2,395.4 524.2,395.5 526.2,395.6 528.2,395.7 530.2,395.8 532.2,395.9 534.2,395.9 536.2,396 538.2,396.1 540.2,396.2 542.2,396.3 544.2,396.3 546.2,396.4 548.2,396.5 550,396.5" stroke-dasharray="4.7 2.8"/>
</g>
<g font-family="'Liberation Serif', serif" font-size="7.6" fill="#111" stroke="#111" stroke-width="0.15">
<text x="29.6" y="400.3" text-anchor="end">0.0</text>
<text x="29.6" y="376.6" text-anchor="end">0.2</text>
<text x="29.6" y="352.9" text-anchor="end">0.4</text>
<text x="29.6" y="329.1" text-anchor="end">0.6</text>
<text x="29.6" y="305.4" text-anchor="end">0.8</text>
<text x="94.2" y="415.9" text-anchor="middle">−50</text>
<text x="197.6" y="415.9" text-anchor="middle">0</text>
<text x="301" y="415.9" text-anchor="middle">50</text>
<text x="404.4" y="415.9" text-anchor="middle">100</text>
<text x="507.7" y="415.9" text-anchor="middle">150</text>
</g>
</g>
<g font-family="'Liberation Serif', serif" fill="#111" stroke="#111" stroke-width="0.2" word-spacing="1.2">
<text transform="translate(12.5,56.5) rotate(-90)" font-size="16.2" text-anchor="middle">U</text>
<text transform="translate(12.5,204.5) rotate(-90)" font-size="16.2" text-anchor="middle">U</text>
<text transform="translate(12.5,354.5) rotate(-90)" font-size="16.2" text-anchor="middle">U</text>
<text x="283.1" y="136.3" font-size="16.2" text-anchor="middle" >X</text>
<text x="286.4" y="285" font-size="16.2" text-anchor="middle" >X</text>
<text x="290.9" y="435.4" font-size="16.2" text-anchor="middle" >X</text>
<text x="40.6" y="20.2" font-size="12.6" text-anchor="start" >(a)</text>
<text x="41.5" y="169.5" font-size="12.6" text-anchor="start" >(b)</text>
<text x="41.8" y="318.9" font-size="12.6" text-anchor="start" >(c)</text>
<text x="67.9" y="33" font-size="13" text-anchor="start" ><tspan font-style="italic">p</tspan> = 0.13</text>
<text x="68.6" y="49.3" font-size="13" text-anchor="start" ><tspan font-style="italic">σ</tspan><tspan dx="0.9"> </tspan>= 0.2</text>
<text x="73.7" y="184.3" font-size="13" text-anchor="start" ><tspan font-style="italic">β</tspan> = 0.17</text>
<text x="75.3" y="202.3" font-size="13" text-anchor="start" ><tspan font-style="italic">σ</tspan><tspan dx="0.9"> </tspan>= 0.2</text>
<text x="70.2" y="324.6" font-size="13" text-anchor="start" ><tspan font-style="italic">β</tspan> = 0.35</text>
<text x="71.5" y="344" font-size="13" text-anchor="start" ><tspan font-style="italic">p</tspan> = 0.13</text>
<text x="196.6" y="23" font-size="10.8" text-anchor="start" letter-spacing="0.15"><tspan font-style="italic">τ</tspan>=0</text>
<text x="283.4" y="23" font-size="10.8" text-anchor="start" letter-spacing="0.15"><tspan font-style="italic">τ</tspan>=30</text>
<text x="381.3" y="23" font-size="10.8" text-anchor="start" letter-spacing="0.15"><tspan font-style="italic">τ</tspan>=60</text>
<text x="185" y="172" font-size="10.8" text-anchor="start" letter-spacing="0.15"><tspan font-style="italic">τ</tspan>=0</text>
<text x="286.2" y="172" font-size="10.8" text-anchor="start" letter-spacing="0.15"><tspan font-style="italic">τ</tspan>=30</text>
<text x="387" y="172" font-size="10.8" text-anchor="start" letter-spacing="0.15"><tspan font-style="italic">τ</tspan>=60</text>
<text x="188" y="320.8" font-size="10.8" text-anchor="start" letter-spacing="0.15"><tspan font-style="italic">τ</tspan>=0</text>
<text x="290" y="320.8" font-size="10.8" text-anchor="start" letter-spacing="0.15"><tspan font-style="italic">τ</tspan>=30</text>
<text x="393.4" y="320.8" font-size="10.8" text-anchor="start" letter-spacing="0.15"><tspan font-style="italic">τ</tspan>=60</text>
<text x="467.5" y="33.4" font-size="13" text-anchor="start" ><tspan font-style="italic">β</tspan> = 0.3</text>
<text x="485.5" y="61" font-size="13" text-anchor="start" ><tspan font-style="italic">β</tspan> = 0</text>
<text x="474.1" y="192.2" font-size="13" text-anchor="start" ><tspan font-style="italic">p</tspan> = 0.67</text>
<text x="482.8" y="215.6" font-size="13" text-anchor="start" ><tspan font-style="italic">p</tspan> = 0</text>
<text x="482.8" y="336.5" font-size="13" text-anchor="start" ><tspan font-style="italic">σ</tspan><tspan dx="0.9"> </tspan>= 0.87</text>
<text x="489.2" y="367.3" font-size="13" text-anchor="start" ><tspan font-style="italic">σ</tspan><tspan dx="0.9"> </tspan>= 0.02</text>
</g>
<g id="arrows">
<path d="M442.8,31.2L459.4,31.2" stroke="#111" stroke-width="0.9" fill="none"/><path transform="translate(463.4,31.2) rotate(0.0)" d="M0,0L-7.4,-2.3L-5.6,0L-7.4,2.3Z" fill="#111"/>
<path d="M429.4,57.3L477.3,57.3" stroke="#111" stroke-width="0.9" fill="none"/><path transform="translate(481.3,57.3) rotate(0.0)" d="M0,0L-7.4,-2.3L-5.6,0L-7.4,2.3Z" fill="#111"/>
<path d="M449.7,191.1L467.6,189.1" stroke="#111" stroke-width="0.9" fill="none"/><path transform="translate(471.6,188.6) rotate(-6.5)" d="M0,0L-7.4,-2.3L-5.6,0L-7.4,2.3Z" fill="#111"/>
<path d="M422,214.9L475.2,211.8" stroke="#111" stroke-width="0.9" fill="none"/><path transform="translate(479.2,211.6) rotate(-3.4)" d="M0,0L-7.4,-2.3L-5.6,0L-7.4,2.3Z" fill="#111"/>
<path d="M440,331L474.3,331.4" stroke="#111" stroke-width="0.9" fill="none"/><path transform="translate(478.3,331.5) rotate(0.7)" d="M0,0L-7.4,-2.3L-5.6,0L-7.4,2.3Z" fill="#111"/>
<path d="M444,361.8L480.8,363.6" stroke="#111" stroke-width="0.9" fill="none"/><path transform="translate(484.8,363.8) rotate(2.8)" d="M0,0L-7.4,-2.3L-5.6,0L-7.4,2.3Z" fill="#111"/>
</g>
</svg>
</body></html>
